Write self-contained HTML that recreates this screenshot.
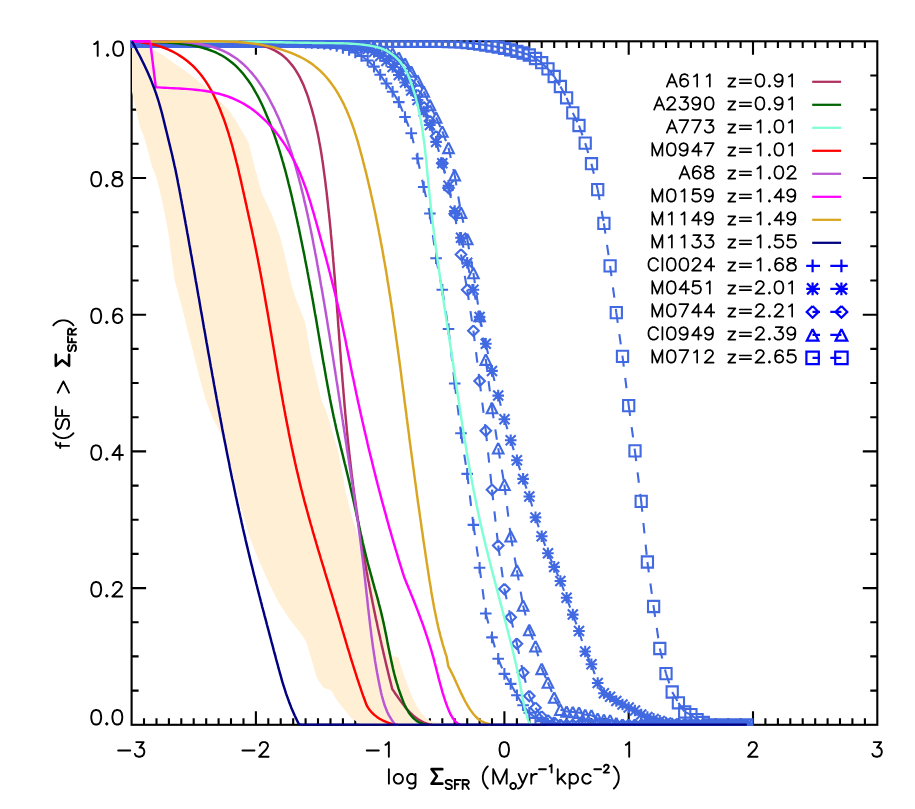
<!DOCTYPE html>
<html><head><meta charset="utf-8"><title>plot</title><style>html,body{margin:0;padding:0;background:#fff;font-family:"Liberation Sans",sans-serif}svg{display:block}</style></head><body>
<svg width="915" height="809" viewBox="0 0 915 809" role="img" aria-label="f(SF &gt; Sigma_SFR) versus log Sigma_SFR (Mo yr-1 kpc-2)">
<desc>Cumulative fraction of star formation above a given star formation rate surface density for lensed galaxies: A611 z=0.91, A2390 z=0.91, A773 z=1.01, M0947 z=1.01, A68 z=1.02, M0159 z=1.49, M1149 z=1.49, M1133 z=1.55, Cl0024 z=1.68, M0451 z=2.01, M0744 z=2.21, Cl0949 z=2.39, M0712 z=2.65</desc>
<defs><clipPath id="cp"><rect x="130.6" y="40.1" width="747.7" height="685.7"/></clipPath></defs>
<rect width="915" height="809" fill="#fff"/>
<g stroke="#000" stroke-width="2.1" fill="none" stroke-linecap="butt">
<rect x="131.6" y="41.3" width="745.7" height="683.5"/>
<path d="M144 724.8v-6.6M144 41.3v6.6M156.5 724.8v-6.6M156.5 41.3v6.6M168.9 724.8v-6.6M168.9 41.3v6.6M181.3 724.8v-6.6M181.3 41.3v6.6M193.7 724.8v-6.6M193.7 41.3v6.6M206.2 724.8v-6.6M206.2 41.3v6.6M218.6 724.8v-6.6M218.6 41.3v6.6M231 724.8v-6.6M231 41.3v6.6M243.5 724.8v-6.6M243.5 41.3v6.6M255.9 724.8v-13.5M255.9 41.3v13.5M268.3 724.8v-6.6M268.3 41.3v6.6M280.7 724.8v-6.6M280.7 41.3v6.6M293.2 724.8v-6.6M293.2 41.3v6.6M305.6 724.8v-6.6M305.6 41.3v6.6M318 724.8v-6.6M318 41.3v6.6M330.5 724.8v-6.6M330.5 41.3v6.6M342.9 724.8v-6.6M342.9 41.3v6.6M355.3 724.8v-6.6M355.3 41.3v6.6M367.7 724.8v-6.6M367.7 41.3v6.6M380.2 724.8v-13.5M380.2 41.3v13.5M392.6 724.8v-6.6M392.6 41.3v6.6M405 724.8v-6.6M405 41.3v6.6M417.5 724.8v-6.6M417.5 41.3v6.6M429.9 724.8v-6.6M429.9 41.3v6.6M442.3 724.8v-6.6M442.3 41.3v6.6M454.7 724.8v-6.6M454.7 41.3v6.6M467.2 724.8v-6.6M467.2 41.3v6.6M479.6 724.8v-6.6M479.6 41.3v6.6M492 724.8v-6.6M492 41.3v6.6M504.4 724.8v-13.5M504.4 41.3v13.5M516.9 724.8v-6.6M516.9 41.3v6.6M529.3 724.8v-6.6M529.3 41.3v6.6M541.7 724.8v-6.6M541.7 41.3v6.6M554.2 724.8v-6.6M554.2 41.3v6.6M566.6 724.8v-6.6M566.6 41.3v6.6M579 724.8v-6.6M579 41.3v6.6M591.4 724.8v-6.6M591.4 41.3v6.6M603.9 724.8v-6.6M603.9 41.3v6.6M616.3 724.8v-6.6M616.3 41.3v6.6M628.7 724.8v-13.5M628.7 41.3v13.5M641.2 724.8v-6.6M641.2 41.3v6.6M653.6 724.8v-6.6M653.6 41.3v6.6M666 724.8v-6.6M666 41.3v6.6M678.4 724.8v-6.6M678.4 41.3v6.6M690.9 724.8v-6.6M690.9 41.3v6.6M703.3 724.8v-6.6M703.3 41.3v6.6M715.7 724.8v-6.6M715.7 41.3v6.6M728.2 724.8v-6.6M728.2 41.3v6.6M740.6 724.8v-6.6M740.6 41.3v6.6M753 724.8v-13.5M753 41.3v13.5M765.4 724.8v-6.6M765.4 41.3v6.6M777.9 724.8v-6.6M777.9 41.3v6.6M790.3 724.8v-6.6M790.3 41.3v6.6M802.7 724.8v-6.6M802.7 41.3v6.6M815.2 724.8v-6.6M815.2 41.3v6.6M827.6 724.8v-6.6M827.6 41.3v6.6M840 724.8v-6.6M840 41.3v6.6M852.4 724.8v-6.6M852.4 41.3v6.6M864.9 724.8v-6.6M864.9 41.3v6.6M131.6 690.6h7M877.3 690.6h-7M131.6 656.4h7M877.3 656.4h-7M131.6 622.3h7M877.3 622.3h-7M131.6 588.1h14.5M877.3 588.1h-14.5M131.6 553.9h7M877.3 553.9h-7M131.6 519.8h7M877.3 519.8h-7M131.6 485.6h7M877.3 485.6h-7M131.6 451.4h14.5M877.3 451.4h-14.5M131.6 417.2h7M877.3 417.2h-7M131.6 383h7M877.3 383h-7M131.6 348.9h7M877.3 348.9h-7M131.6 314.7h14.5M877.3 314.7h-14.5M131.6 280.5h7M877.3 280.5h-7M131.6 246.3h7M877.3 246.3h-7M131.6 212.2h7M877.3 212.2h-7M131.6 178h14.5M877.3 178h-14.5M131.6 143.8h7M877.3 143.8h-7M131.6 109.6h7M877.3 109.6h-7M131.6 75.5h7M877.3 75.5h-7"/>
</g>
<path d="M132 41.3 L148 41.3 L151.4 48.8 L162.7 55.1 L175.3 63.9 L187.8 72.7 L200.4 82.8 L206.7 87.8 L219.3 100.4 L229.3 110.4 L235.6 120.5 L240 128 L245 136 L248.8 143.5 L251.9 156.1 L255.1 168.7 L258.9 182.5 L262 193.8 L267 203.9 L272 215.2 L276.4 226.5 L280.2 237 L284 252.1 L287.8 268.4 L291.5 284.8 L295.3 297.3 L300.3 309.9 L304.7 321.2 L306.6 330 L307.9 338 L311 356.1 L316 376.3 L321.1 398.9 L326.5 412 L330.4 425.1 L337.9 450.3 L342.9 475.4 L345.2 490 L351.4 515.1 L356.5 531.5 L361 547 L369.5 566.2 L375.8 591.4 L382.1 616.5 L386.6 636.1 L388.4 643.1 L391.5 655 L392.8 656.3 L398.5 657.2 L400.4 664.4 L404.1 675.8 L407.9 685.8 L411.7 695.9 L416.7 705.9 L421.7 713.5 L428 719.7 L434.3 722 L440.6 722.9 L446 724.8 L362 724.8 L358.9 723.5 L355 720.4 L351.2 717.9 L343.7 709.1 L336.1 699 L331.1 690.2 L323.6 687.7 L317.3 678.9 L313.5 666.3 L309.8 653.8 L306 641.2 L301 633.7 L290.9 621.1 L278.3 601.9 L268.3 581.8 L258.2 559.1 L249.4 536.5 L240.6 506.4 L233.1 473.7 L226.5 447 L223.7 441.2 L219.7 430.7 L213 419 L205.4 398.9 L199.2 376.3 L194.1 356.1 L187.8 331 L181.6 305.9 L174.8 280.7 L171.5 258.1 L169 237 L166.5 222.7 L163.3 206.4 L160.2 192.6 L156.4 177.5 L152 166.2 L148.3 152.3 L143.9 136 L140.7 129.3 L137.6 116.7 L135.1 105.4 L132 91.6 L132 88Z" fill="#FFEFD5"/>
<g clip-path="url(#cp)" stroke="#4169E1" stroke-width="2.1" fill="none" stroke-miterlimit="10">
<path d="M131.6 41.3L137.8 41.3M137.8 41.3L144 41.3M144 41.3L150.2 41.3M150.2 41.3L156.5 41.3M156.5 41.3L162.7 41.3M162.7 41.3L168.9 41.3M168.9 41.3L175.1 41.3M175.1 41.3L181.3 41.3M181.3 41.3L187.5 41.3M187.5 41.3L193.7 41.3M193.7 41.3L200 41.3M200 41.3L206.2 41.3M206.2 41.3L212.4 41.3M212.4 41.3L218.6 41.3M218.6 41.3L224.8 41.3M224.8 41.3L231 41.3M231 41.3L237.2 41.3M237.2 41.3L243.5 41.3M243.5 41.3L249.7 41.3M249.7 41.3L255.9 41.3M255.9 41.3L262.1 41.3M262.1 41.3L268.3 41.3M268.3 41.3L274.5 41.3M274.5 41.3L280.7 41.3M280.7 41.3L287 41.3M287 41.3L293.2 41.3M293.2 41.3L299.4 41.3M299.4 41.3L305.6 41.3M305.6 41.3L311.8 41.3M311.8 41.3L318 41.3M318 41.3L324.2 41.3M324.2 41.3L330.5 41.3M330.5 41.3L336.7 41.3M336.7 41.3L342.9 41.3M342.9 41.3L349.1 41.3M349.1 41.3L355.3 41.3M355.3 41.3L361.5 41.3M361.5 41.3L367.7 41.3M367.7 41.3L374 41.3M374 41.3L380.2 41.3M380.2 41.3L386.4 41.3M386.4 41.3L392.6 41.3M392.6 41.3L398.8 41.3M398.8 41.3L405 41.3M405 41.3L411.2 41.3M411.2 41.3L417.5 41.3M417.5 41.3L423.7 41.3M423.7 41.3L429.9 41.3M429.9 41.3L436.1 41.3M436.1 41.3L442.3 41.4M442.3 41.4L448.5 41.6M448.5 41.6L454.7 41.8M454.7 41.8L461 42.2M461 42.2L467.2 42.7M467.2 42.7L473.4 43.4M473.4 43.4L479.6 44.2M479.6 44.2L485.8 45.1M485.8 45.1L492 46M492 46L498.2 47.1M498.2 47.1L504.4 48.3M504.4 48.3L510.7 49.8M510.7 49.8L516.9 51.3M516.9 51.3L523.1 53M523.1 53L529.3 55M529.3 55L535.5 58.5M535.5 58.5L541.7 62.7M541.7 62.7L547.9 68.9M547.9 68.9L554.2 76.5M554.2 76.5L560.4 86.5M560.4 86.5L566.6 97.8M566.6 97.8L572.8 112.9M572.8 112.9L579 125.5M579 125.5L585.2 143.1M585.2 143.1L591.4 163.7M591.4 163.7L597.7 189.6M597.7 189.6L603.9 223.4M603.9 223.4L610.1 265.9M610.1 265.9L616.3 312.6M616.3 312.6L622.5 356.4M622.5 356.4L628.7 405.6M628.7 405.6L634.9 450.9M634.9 450.9L641.2 501.4M641.2 501.4L647.4 562M647.4 562L653.6 606.5M653.6 606.5L659.8 648.5M659.8 648.5L666 673.6M666 673.6L672.2 692M672.2 692L678.4 702.8M678.4 702.8L684.7 712M684.7 712L690.9 714.6M690.9 714.6L697.1 719.6M697.1 719.6L703.3 722.5M703.3 722.5L709.5 724.8M709.5 724.8L715.7 724.8M715.7 724.8L721.9 724.8M721.9 724.8L728.2 724.8M728.2 724.8L734.4 724.8M734.4 724.8L740.6 724.8M740.6 724.8L746.8 724.8" stroke-dasharray="10.4 11.3"/>
<path d="M126 35.7h11.2v11.2h-11.2ZM132.2 35.7h11.2v11.2h-11.2ZM138.4 35.7h11.2v11.2h-11.2ZM144.6 35.7h11.2v11.2h-11.2ZM150.9 35.7h11.2v11.2h-11.2ZM157.1 35.7h11.2v11.2h-11.2ZM163.3 35.7h11.2v11.2h-11.2ZM169.5 35.7h11.2v11.2h-11.2ZM175.7 35.7h11.2v11.2h-11.2ZM181.9 35.7h11.2v11.2h-11.2ZM188.1 35.7h11.2v11.2h-11.2ZM194.4 35.7h11.2v11.2h-11.2ZM200.6 35.7h11.2v11.2h-11.2ZM206.8 35.7h11.2v11.2h-11.2ZM213 35.7h11.2v11.2h-11.2ZM219.2 35.7h11.2v11.2h-11.2ZM225.4 35.7h11.2v11.2h-11.2ZM231.6 35.7h11.2v11.2h-11.2ZM237.9 35.7h11.2v11.2h-11.2ZM244.1 35.7h11.2v11.2h-11.2ZM250.3 35.7h11.2v11.2h-11.2ZM256.5 35.7h11.2v11.2h-11.2ZM262.7 35.7h11.2v11.2h-11.2ZM268.9 35.7h11.2v11.2h-11.2ZM275.1 35.7h11.2v11.2h-11.2ZM281.4 35.7h11.2v11.2h-11.2ZM287.6 35.7h11.2v11.2h-11.2ZM293.8 35.7h11.2v11.2h-11.2ZM300 35.7h11.2v11.2h-11.2ZM306.2 35.7h11.2v11.2h-11.2ZM312.4 35.7h11.2v11.2h-11.2ZM318.6 35.7h11.2v11.2h-11.2ZM324.9 35.7h11.2v11.2h-11.2ZM331.1 35.7h11.2v11.2h-11.2ZM337.3 35.7h11.2v11.2h-11.2ZM343.5 35.7h11.2v11.2h-11.2ZM349.7 35.7h11.2v11.2h-11.2ZM355.9 35.7h11.2v11.2h-11.2ZM362.1 35.7h11.2v11.2h-11.2ZM368.4 35.7h11.2v11.2h-11.2ZM374.6 35.7h11.2v11.2h-11.2ZM380.8 35.7h11.2v11.2h-11.2ZM387 35.7h11.2v11.2h-11.2ZM393.2 35.7h11.2v11.2h-11.2ZM399.4 35.7h11.2v11.2h-11.2ZM405.6 35.7h11.2v11.2h-11.2ZM411.9 35.7h11.2v11.2h-11.2ZM418.1 35.7h11.2v11.2h-11.2ZM424.3 35.7h11.2v11.2h-11.2ZM430.5 35.7h11.2v11.2h-11.2ZM436.7 35.8h11.2v11.2h-11.2ZM442.9 36h11.2v11.2h-11.2ZM449.1 36.2h11.2v11.2h-11.2ZM455.4 36.6h11.2v11.2h-11.2ZM461.6 37.1h11.2v11.2h-11.2ZM467.8 37.8h11.2v11.2h-11.2ZM474 38.6h11.2v11.2h-11.2ZM480.2 39.5h11.2v11.2h-11.2ZM486.4 40.4h11.2v11.2h-11.2ZM492.6 41.5h11.2v11.2h-11.2ZM498.9 42.7h11.2v11.2h-11.2ZM505.1 44.2h11.2v11.2h-11.2ZM511.3 45.7h11.2v11.2h-11.2ZM517.5 47.4h11.2v11.2h-11.2ZM523.7 49.4h11.2v11.2h-11.2ZM529.9 52.9h11.2v11.2h-11.2ZM536.1 57.1h11.2v11.2h-11.2ZM542.4 63.3h11.2v11.2h-11.2ZM548.6 70.9h11.2v11.2h-11.2ZM554.8 80.9h11.2v11.2h-11.2ZM561 92.2h11.2v11.2h-11.2ZM567.2 107.3h11.2v11.2h-11.2ZM573.4 119.9h11.2v11.2h-11.2ZM579.6 137.5h11.2v11.2h-11.2ZM585.9 158.1h11.2v11.2h-11.2ZM592.1 184h11.2v11.2h-11.2ZM598.3 217.8h11.2v11.2h-11.2ZM604.5 260.3h11.2v11.2h-11.2ZM610.7 307h11.2v11.2h-11.2ZM616.9 350.8h11.2v11.2h-11.2ZM623.1 400h11.2v11.2h-11.2ZM629.4 445.3h11.2v11.2h-11.2ZM635.6 495.8h11.2v11.2h-11.2ZM641.8 556.4h11.2v11.2h-11.2ZM648 600.9h11.2v11.2h-11.2ZM654.2 642.9h11.2v11.2h-11.2ZM660.4 668h11.2v11.2h-11.2ZM666.6 686.4h11.2v11.2h-11.2ZM672.8 697.2h11.2v11.2h-11.2ZM679.1 706.4h11.2v11.2h-11.2ZM685.3 709h11.2v11.2h-11.2ZM691.5 714h11.2v11.2h-11.2ZM697.7 716.9h11.2v11.2h-11.2ZM703.9 719.2h11.2v11.2h-11.2ZM710.1 719.2h11.2v11.2h-11.2ZM716.3 719.2h11.2v11.2h-11.2ZM722.6 719.2h11.2v11.2h-11.2ZM728.8 719.2h11.2v11.2h-11.2ZM735 719.2h11.2v11.2h-11.2ZM741.2 719.2h11.2v11.2h-11.2Z"/>
<path d="M131.6 41.3L137.8 41.3M137.8 41.3L144 41.3M144 41.3L150.2 41.3M150.2 41.3L156.5 41.3M156.5 41.3L162.7 41.3M162.7 41.3L168.9 41.3M168.9 41.3L175.1 41.3M175.1 41.3L181.3 41.3M181.3 41.3L187.5 41.3M187.5 41.3L193.7 41.3M193.7 41.3L200 41.3M200 41.3L206.2 41.3M206.2 41.3L212.4 41.3M212.4 41.3L218.6 41.3M218.6 41.3L224.8 41.3M224.8 41.3L231 41.3M231 41.3L237.2 41.3M237.2 41.3L243.5 41.3M243.5 41.3L249.7 41.3M249.7 41.3L255.9 41.3M255.9 41.3L262.1 41.3M262.1 41.3L268.3 41.3M268.3 41.3L274.5 41.3M274.5 41.3L280.7 41.3M280.7 41.3L287 41.3M287 41.3L293.2 41.4M293.2 41.4L299.4 41.5M299.4 41.5L305.6 41.7M305.6 41.7L311.8 41.8M311.8 41.8L318 42M318 42L324.2 42.2M324.2 42.2L330.5 42.4M330.5 42.4L336.7 42.7M336.7 42.7L342.9 43M342.9 43L349.1 43.4M349.1 43.4L355.3 44M355.3 44L361.5 44.6M361.5 44.6L367.7 45.5M367.7 45.5L374 47M374 47L380.2 48.5M380.2 48.5L386.4 51M386.4 51L392.6 53.5M392.6 53.5L398.8 57.5M398.8 57.5L405 63.5M405 63.5L411.2 71.5M411.2 71.5L417.5 80.5M417.5 80.5L423.7 91.5M423.7 91.5L429.9 105M429.9 105L436.1 117.5M436.1 117.5L442.3 131.4M442.3 131.4L448.5 147.8M448.5 147.8L454.7 175.1M454.7 175.1L461 212.6M461 212.6L467.2 239M467.2 239L473.4 272.9M473.4 272.9L479.6 316M479.6 316L485.8 359.6M485.8 359.6L492 408M492 408L498.2 448.2M498.2 448.2L504.4 484.7M504.4 484.7L510.7 536.2M510.7 536.2L516.9 570.2M516.9 570.2L523.1 605.5M523.1 605.5L529.3 629.9M529.3 629.9L535.5 646.2M535.5 646.2L541.7 668.8M541.7 668.8L547.9 682.4M547.9 682.4L554.2 697.5M554.2 697.5L560.4 709.7M560.4 709.7L566.6 711.5M566.6 711.5L572.8 712M572.8 712L579 712.6M579 712.6L585.2 714.8M585.2 714.8L591.4 715.3M591.4 715.3L597.7 718.6M597.7 718.6L603.9 719.7M603.9 719.7L610.1 720.2M610.1 720.2L616.3 723M616.3 723L622.5 724.8M622.5 724.8L628.7 724.8M628.7 724.8L634.9 724.8M634.9 724.8L641.2 724.8M641.2 724.8L647.4 724.8M647.4 724.8L653.6 724.8M653.6 724.8L659.8 724.8M659.8 724.8L666 724.8M666 724.8L672.2 724.8M672.2 724.8L678.4 724.8M678.4 724.8L684.7 724.8M684.7 724.8L690.9 724.8M690.9 724.8L697.1 724.8M697.1 724.8L703.3 724.8M703.3 724.8L709.5 724.8M709.5 724.8L715.7 724.8M715.7 724.8L721.9 724.8M721.9 724.8L728.2 724.8M728.2 724.8L734.4 724.8M734.4 724.8L740.6 724.8M740.6 724.8L746.8 724.8" stroke-dasharray="10.4 11.3"/>
<path d="M131.6 36l5.3 10.6h-10.6l5.3 -10.6M137.8 36l5.3 10.6h-10.6l5.3 -10.6M144 36l5.3 10.6h-10.6l5.3 -10.6M150.2 36l5.3 10.6h-10.6l5.3 -10.6M156.5 36l5.3 10.6h-10.6l5.3 -10.6M162.7 36l5.3 10.6h-10.6l5.3 -10.6M168.9 36l5.3 10.6h-10.6l5.3 -10.6M175.1 36l5.3 10.6h-10.6l5.3 -10.6M181.3 36l5.3 10.6h-10.6l5.3 -10.6M187.5 36l5.3 10.6h-10.6l5.3 -10.6M193.7 36l5.3 10.6h-10.6l5.3 -10.6M200 36l5.3 10.6h-10.6l5.3 -10.6M206.2 36l5.3 10.6h-10.6l5.3 -10.6M212.4 36l5.3 10.6h-10.6l5.3 -10.6M218.6 36l5.3 10.6h-10.6l5.3 -10.6M224.8 36l5.3 10.6h-10.6l5.3 -10.6M231 36l5.3 10.6h-10.6l5.3 -10.6M237.2 36l5.3 10.6h-10.6l5.3 -10.6M243.5 36l5.3 10.6h-10.6l5.3 -10.6M249.7 36l5.3 10.6h-10.6l5.3 -10.6M255.9 36l5.3 10.6h-10.6l5.3 -10.6M262.1 36l5.3 10.6h-10.6l5.3 -10.6M268.3 36l5.3 10.6h-10.6l5.3 -10.6M274.5 36l5.3 10.6h-10.6l5.3 -10.6M280.7 36l5.3 10.6h-10.6l5.3 -10.6M287 36l5.3 10.6h-10.6l5.3 -10.6M293.2 36.1l5.3 10.6h-10.6l5.3 -10.6M299.4 36.2l5.3 10.6h-10.6l5.3 -10.6M305.6 36.4l5.3 10.6h-10.6l5.3 -10.6M311.8 36.5l5.3 10.6h-10.6l5.3 -10.6M318 36.7l5.3 10.6h-10.6l5.3 -10.6M324.2 36.9l5.3 10.6h-10.6l5.3 -10.6M330.5 37.1l5.3 10.6h-10.6l5.3 -10.6M336.7 37.4l5.3 10.6h-10.6l5.3 -10.6M342.9 37.7l5.3 10.6h-10.6l5.3 -10.6M349.1 38.1l5.3 10.6h-10.6l5.3 -10.6M355.3 38.7l5.3 10.6h-10.6l5.3 -10.6M361.5 39.3l5.3 10.6h-10.6l5.3 -10.6M367.7 40.2l5.3 10.6h-10.6l5.3 -10.6M374 41.7l5.3 10.6h-10.6l5.3 -10.6M380.2 43.2l5.3 10.6h-10.6l5.3 -10.6M386.4 45.7l5.3 10.6h-10.6l5.3 -10.6M392.6 48.2l5.3 10.6h-10.6l5.3 -10.6M398.8 52.2l5.3 10.6h-10.6l5.3 -10.6M405 58.2l5.3 10.6h-10.6l5.3 -10.6M411.2 66.2l5.3 10.6h-10.6l5.3 -10.6M417.5 75.2l5.3 10.6h-10.6l5.3 -10.6M423.7 86.2l5.3 10.6h-10.6l5.3 -10.6M429.9 99.7l5.3 10.6h-10.6l5.3 -10.6M436.1 112.2l5.3 10.6h-10.6l5.3 -10.6M442.3 126.1l5.3 10.6h-10.6l5.3 -10.6M448.5 142.5l5.3 10.6h-10.6l5.3 -10.6M454.7 169.8l5.3 10.6h-10.6l5.3 -10.6M461 207.3l5.3 10.6h-10.6l5.3 -10.6M467.2 233.7l5.3 10.6h-10.6l5.3 -10.6M473.4 267.6l5.3 10.6h-10.6l5.3 -10.6M479.6 310.7l5.3 10.6h-10.6l5.3 -10.6M485.8 354.3l5.3 10.6h-10.6l5.3 -10.6M492 402.7l5.3 10.6h-10.6l5.3 -10.6M498.2 442.9l5.3 10.6h-10.6l5.3 -10.6M504.4 479.4l5.3 10.6h-10.6l5.3 -10.6M510.7 530.9l5.3 10.6h-10.6l5.3 -10.6M516.9 564.9l5.3 10.6h-10.6l5.3 -10.6M523.1 600.2l5.3 10.6h-10.6l5.3 -10.6M529.3 624.6l5.3 10.6h-10.6l5.3 -10.6M535.5 640.9l5.3 10.6h-10.6l5.3 -10.6M541.7 663.5l5.3 10.6h-10.6l5.3 -10.6M547.9 677.1l5.3 10.6h-10.6l5.3 -10.6M554.2 692.2l5.3 10.6h-10.6l5.3 -10.6M560.4 704.4l5.3 10.6h-10.6l5.3 -10.6M566.6 706.2l5.3 10.6h-10.6l5.3 -10.6M572.8 706.7l5.3 10.6h-10.6l5.3 -10.6M579 707.3l5.3 10.6h-10.6l5.3 -10.6M585.2 709.5l5.3 10.6h-10.6l5.3 -10.6M591.4 710l5.3 10.6h-10.6l5.3 -10.6M597.7 713.3l5.3 10.6h-10.6l5.3 -10.6M603.9 714.4l5.3 10.6h-10.6l5.3 -10.6M610.1 714.9l5.3 10.6h-10.6l5.3 -10.6M616.3 717.7l5.3 10.6h-10.6l5.3 -10.6M622.5 719.5l5.3 10.6h-10.6l5.3 -10.6M628.7 719.5l5.3 10.6h-10.6l5.3 -10.6M634.9 719.5l5.3 10.6h-10.6l5.3 -10.6M641.2 719.5l5.3 10.6h-10.6l5.3 -10.6M647.4 719.5l5.3 10.6h-10.6l5.3 -10.6M653.6 719.5l5.3 10.6h-10.6l5.3 -10.6M659.8 719.5l5.3 10.6h-10.6l5.3 -10.6M666 719.5l5.3 10.6h-10.6l5.3 -10.6M672.2 719.5l5.3 10.6h-10.6l5.3 -10.6M678.4 719.5l5.3 10.6h-10.6l5.3 -10.6M684.7 719.5l5.3 10.6h-10.6l5.3 -10.6M690.9 719.5l5.3 10.6h-10.6l5.3 -10.6M697.1 719.5l5.3 10.6h-10.6l5.3 -10.6M703.3 719.5l5.3 10.6h-10.6l5.3 -10.6M709.5 719.5l5.3 10.6h-10.6l5.3 -10.6M715.7 719.5l5.3 10.6h-10.6l5.3 -10.6M721.9 719.5l5.3 10.6h-10.6l5.3 -10.6M728.2 719.5l5.3 10.6h-10.6l5.3 -10.6M734.4 719.5l5.3 10.6h-10.6l5.3 -10.6M740.6 719.5l5.3 10.6h-10.6l5.3 -10.6M746.8 719.5l5.3 10.6h-10.6l5.3 -10.6"/>
<path d="M131.6 41.3L137.8 41.3M137.8 41.3L144 41.3M144 41.3L150.2 41.3M150.2 41.3L156.5 41.3M156.5 41.3L162.7 41.3M162.7 41.3L168.9 41.3M168.9 41.3L175.1 41.3M175.1 41.3L181.3 41.3M181.3 41.3L187.5 41.3M187.5 41.3L193.7 41.3M193.7 41.3L200 41.3M200 41.3L206.2 41.3M206.2 41.3L212.4 41.3M212.4 41.3L218.6 41.3M218.6 41.3L224.8 41.3M224.8 41.3L231 41.3M231 41.3L237.2 41.3M237.2 41.3L243.5 41.3M243.5 41.3L249.7 41.3M249.7 41.3L255.9 41.3M255.9 41.3L262.1 41.3M262.1 41.3L268.3 41.3M268.3 41.3L274.5 41.3M274.5 41.3L280.7 41.3M280.7 41.3L287 41.3M287 41.3L293.2 41.5M293.2 41.5L299.4 41.7M299.4 41.7L305.6 41.9M305.6 41.9L311.8 42.2M311.8 42.2L318 42.5M318 42.5L324.2 42.8M324.2 42.8L330.5 43.1M330.5 43.1L336.7 43.5M336.7 43.5L342.9 44M342.9 44L349.1 44.7M349.1 44.7L355.3 45.5M355.3 45.5L361.5 46.4M361.5 46.4L367.7 47.5M367.7 47.5L374 49.5M374 49.5L380.2 52.5M380.2 52.5L386.4 56.5M386.4 56.5L392.6 61.5M392.6 61.5L398.8 68M398.8 68L405 75.5M405 75.5L411.2 84.5M411.2 84.5L417.5 95M417.5 95L423.7 107M423.7 107L429.9 121M429.9 121L436.1 136.2M436.1 136.2L442.3 163.3M442.3 163.3L448.5 188M448.5 188L454.7 213.8M454.7 213.8L461 254.5M461 254.5L467.2 289.7M467.2 289.7L473.4 330.7M473.4 330.7L479.6 381M479.6 381L485.8 430.7M485.8 430.7L492 489.7M492 489.7L498.2 545.5M498.2 545.5L504.4 589M504.4 589L510.7 617.3M510.7 617.3L516.9 643.7M516.9 643.7L523.1 672.6M523.1 672.6L529.3 696M529.3 696L535.5 707.8M535.5 707.8L541.7 716.6M541.7 716.6L547.9 720.4M547.9 720.4L554.2 722.5M554.2 722.5L560.4 724.8M560.4 724.8L566.6 724.8M566.6 724.8L572.8 724.8M572.8 724.8L579 724.8M579 724.8L585.2 724.8M585.2 724.8L591.4 724.8M591.4 724.8L597.7 724.8M597.7 724.8L603.9 724.8M603.9 724.8L610.1 724.8M610.1 724.8L616.3 724.8M616.3 724.8L622.5 724.8M622.5 724.8L628.7 724.8M628.7 724.8L634.9 724.8M634.9 724.8L641.2 724.8M641.2 724.8L647.4 724.8M647.4 724.8L653.6 724.8M653.6 724.8L659.8 724.8M659.8 724.8L666 724.8M666 724.8L672.2 724.8M672.2 724.8L678.4 724.8M678.4 724.8L684.7 724.8M684.7 724.8L690.9 724.8M690.9 724.8L697.1 724.8M697.1 724.8L703.3 724.8M703.3 724.8L709.5 724.8M709.5 724.8L715.7 724.8M715.7 724.8L721.9 724.8M721.9 724.8L728.2 724.8M728.2 724.8L734.4 724.8M734.4 724.8L740.6 724.8M740.6 724.8L746.8 724.8" stroke-dasharray="10.4 11.3"/>
<path d="M131.6 36l5.3 5.3l-5.3 5.3l-5.3 -5.3l5.3 -5.3M137.8 36l5.3 5.3l-5.3 5.3l-5.3 -5.3l5.3 -5.3M144 36l5.3 5.3l-5.3 5.3l-5.3 -5.3l5.3 -5.3M150.2 36l5.3 5.3l-5.3 5.3l-5.3 -5.3l5.3 -5.3M156.5 36l5.3 5.3l-5.3 5.3l-5.3 -5.3l5.3 -5.3M162.7 36l5.3 5.3l-5.3 5.3l-5.3 -5.3l5.3 -5.3M168.9 36l5.3 5.3l-5.3 5.3l-5.3 -5.3l5.3 -5.3M175.1 36l5.3 5.3l-5.3 5.3l-5.3 -5.3l5.3 -5.3M181.3 36l5.3 5.3l-5.3 5.3l-5.3 -5.3l5.3 -5.3M187.5 36l5.3 5.3l-5.3 5.3l-5.3 -5.3l5.3 -5.3M193.7 36l5.3 5.3l-5.3 5.3l-5.3 -5.3l5.3 -5.3M200 36l5.3 5.3l-5.3 5.3l-5.3 -5.3l5.3 -5.3M206.2 36l5.3 5.3l-5.3 5.3l-5.3 -5.3l5.3 -5.3M212.4 36l5.3 5.3l-5.3 5.3l-5.3 -5.3l5.3 -5.3M218.6 36l5.3 5.3l-5.3 5.3l-5.3 -5.3l5.3 -5.3M224.8 36l5.3 5.3l-5.3 5.3l-5.3 -5.3l5.3 -5.3M231 36l5.3 5.3l-5.3 5.3l-5.3 -5.3l5.3 -5.3M237.2 36l5.3 5.3l-5.3 5.3l-5.3 -5.3l5.3 -5.3M243.5 36l5.3 5.3l-5.3 5.3l-5.3 -5.3l5.3 -5.3M249.7 36l5.3 5.3l-5.3 5.3l-5.3 -5.3l5.3 -5.3M255.9 36l5.3 5.3l-5.3 5.3l-5.3 -5.3l5.3 -5.3M262.1 36l5.3 5.3l-5.3 5.3l-5.3 -5.3l5.3 -5.3M268.3 36l5.3 5.3l-5.3 5.3l-5.3 -5.3l5.3 -5.3M274.5 36l5.3 5.3l-5.3 5.3l-5.3 -5.3l5.3 -5.3M280.7 36l5.3 5.3l-5.3 5.3l-5.3 -5.3l5.3 -5.3M287 36l5.3 5.3l-5.3 5.3l-5.3 -5.3l5.3 -5.3M293.2 36.2l5.3 5.3l-5.3 5.3l-5.3 -5.3l5.3 -5.3M299.4 36.4l5.3 5.3l-5.3 5.3l-5.3 -5.3l5.3 -5.3M305.6 36.6l5.3 5.3l-5.3 5.3l-5.3 -5.3l5.3 -5.3M311.8 36.9l5.3 5.3l-5.3 5.3l-5.3 -5.3l5.3 -5.3M318 37.2l5.3 5.3l-5.3 5.3l-5.3 -5.3l5.3 -5.3M324.2 37.5l5.3 5.3l-5.3 5.3l-5.3 -5.3l5.3 -5.3M330.5 37.8l5.3 5.3l-5.3 5.3l-5.3 -5.3l5.3 -5.3M336.7 38.2l5.3 5.3l-5.3 5.3l-5.3 -5.3l5.3 -5.3M342.9 38.7l5.3 5.3l-5.3 5.3l-5.3 -5.3l5.3 -5.3M349.1 39.4l5.3 5.3l-5.3 5.3l-5.3 -5.3l5.3 -5.3M355.3 40.2l5.3 5.3l-5.3 5.3l-5.3 -5.3l5.3 -5.3M361.5 41.1l5.3 5.3l-5.3 5.3l-5.3 -5.3l5.3 -5.3M367.7 42.2l5.3 5.3l-5.3 5.3l-5.3 -5.3l5.3 -5.3M374 44.2l5.3 5.3l-5.3 5.3l-5.3 -5.3l5.3 -5.3M380.2 47.2l5.3 5.3l-5.3 5.3l-5.3 -5.3l5.3 -5.3M386.4 51.2l5.3 5.3l-5.3 5.3l-5.3 -5.3l5.3 -5.3M392.6 56.2l5.3 5.3l-5.3 5.3l-5.3 -5.3l5.3 -5.3M398.8 62.7l5.3 5.3l-5.3 5.3l-5.3 -5.3l5.3 -5.3M405 70.2l5.3 5.3l-5.3 5.3l-5.3 -5.3l5.3 -5.3M411.2 79.2l5.3 5.3l-5.3 5.3l-5.3 -5.3l5.3 -5.3M417.5 89.7l5.3 5.3l-5.3 5.3l-5.3 -5.3l5.3 -5.3M423.7 101.7l5.3 5.3l-5.3 5.3l-5.3 -5.3l5.3 -5.3M429.9 115.7l5.3 5.3l-5.3 5.3l-5.3 -5.3l5.3 -5.3M436.1 130.9l5.3 5.3l-5.3 5.3l-5.3 -5.3l5.3 -5.3M442.3 158l5.3 5.3l-5.3 5.3l-5.3 -5.3l5.3 -5.3M448.5 182.7l5.3 5.3l-5.3 5.3l-5.3 -5.3l5.3 -5.3M454.7 208.5l5.3 5.3l-5.3 5.3l-5.3 -5.3l5.3 -5.3M461 249.2l5.3 5.3l-5.3 5.3l-5.3 -5.3l5.3 -5.3M467.2 284.4l5.3 5.3l-5.3 5.3l-5.3 -5.3l5.3 -5.3M473.4 325.4l5.3 5.3l-5.3 5.3l-5.3 -5.3l5.3 -5.3M479.6 375.7l5.3 5.3l-5.3 5.3l-5.3 -5.3l5.3 -5.3M485.8 425.4l5.3 5.3l-5.3 5.3l-5.3 -5.3l5.3 -5.3M492 484.4l5.3 5.3l-5.3 5.3l-5.3 -5.3l5.3 -5.3M498.2 540.2l5.3 5.3l-5.3 5.3l-5.3 -5.3l5.3 -5.3M504.4 583.7l5.3 5.3l-5.3 5.3l-5.3 -5.3l5.3 -5.3M510.7 612l5.3 5.3l-5.3 5.3l-5.3 -5.3l5.3 -5.3M516.9 638.4l5.3 5.3l-5.3 5.3l-5.3 -5.3l5.3 -5.3M523.1 667.3l5.3 5.3l-5.3 5.3l-5.3 -5.3l5.3 -5.3M529.3 690.7l5.3 5.3l-5.3 5.3l-5.3 -5.3l5.3 -5.3M535.5 702.5l5.3 5.3l-5.3 5.3l-5.3 -5.3l5.3 -5.3M541.7 711.3l5.3 5.3l-5.3 5.3l-5.3 -5.3l5.3 -5.3M547.9 715.1l5.3 5.3l-5.3 5.3l-5.3 -5.3l5.3 -5.3M554.2 717.2l5.3 5.3l-5.3 5.3l-5.3 -5.3l5.3 -5.3M560.4 719.5l5.3 5.3l-5.3 5.3l-5.3 -5.3l5.3 -5.3M566.6 719.5l5.3 5.3l-5.3 5.3l-5.3 -5.3l5.3 -5.3M572.8 719.5l5.3 5.3l-5.3 5.3l-5.3 -5.3l5.3 -5.3M579 719.5l5.3 5.3l-5.3 5.3l-5.3 -5.3l5.3 -5.3M585.2 719.5l5.3 5.3l-5.3 5.3l-5.3 -5.3l5.3 -5.3M591.4 719.5l5.3 5.3l-5.3 5.3l-5.3 -5.3l5.3 -5.3M597.7 719.5l5.3 5.3l-5.3 5.3l-5.3 -5.3l5.3 -5.3M603.9 719.5l5.3 5.3l-5.3 5.3l-5.3 -5.3l5.3 -5.3M610.1 719.5l5.3 5.3l-5.3 5.3l-5.3 -5.3l5.3 -5.3M616.3 719.5l5.3 5.3l-5.3 5.3l-5.3 -5.3l5.3 -5.3M622.5 719.5l5.3 5.3l-5.3 5.3l-5.3 -5.3l5.3 -5.3M628.7 719.5l5.3 5.3l-5.3 5.3l-5.3 -5.3l5.3 -5.3M634.9 719.5l5.3 5.3l-5.3 5.3l-5.3 -5.3l5.3 -5.3M641.2 719.5l5.3 5.3l-5.3 5.3l-5.3 -5.3l5.3 -5.3M647.4 719.5l5.3 5.3l-5.3 5.3l-5.3 -5.3l5.3 -5.3M653.6 719.5l5.3 5.3l-5.3 5.3l-5.3 -5.3l5.3 -5.3M659.8 719.5l5.3 5.3l-5.3 5.3l-5.3 -5.3l5.3 -5.3M666 719.5l5.3 5.3l-5.3 5.3l-5.3 -5.3l5.3 -5.3M672.2 719.5l5.3 5.3l-5.3 5.3l-5.3 -5.3l5.3 -5.3M678.4 719.5l5.3 5.3l-5.3 5.3l-5.3 -5.3l5.3 -5.3M684.7 719.5l5.3 5.3l-5.3 5.3l-5.3 -5.3l5.3 -5.3M690.9 719.5l5.3 5.3l-5.3 5.3l-5.3 -5.3l5.3 -5.3M697.1 719.5l5.3 5.3l-5.3 5.3l-5.3 -5.3l5.3 -5.3M703.3 719.5l5.3 5.3l-5.3 5.3l-5.3 -5.3l5.3 -5.3M709.5 719.5l5.3 5.3l-5.3 5.3l-5.3 -5.3l5.3 -5.3M715.7 719.5l5.3 5.3l-5.3 5.3l-5.3 -5.3l5.3 -5.3M721.9 719.5l5.3 5.3l-5.3 5.3l-5.3 -5.3l5.3 -5.3M728.2 719.5l5.3 5.3l-5.3 5.3l-5.3 -5.3l5.3 -5.3M734.4 719.5l5.3 5.3l-5.3 5.3l-5.3 -5.3l5.3 -5.3M740.6 719.5l5.3 5.3l-5.3 5.3l-5.3 -5.3l5.3 -5.3M746.8 719.5l5.3 5.3l-5.3 5.3l-5.3 -5.3l5.3 -5.3"/>
<path d="M131.6 41.3L137.8 41.3M137.8 41.3L144 41.3M144 41.3L150.2 41.3M150.2 41.3L156.5 41.3M156.5 41.3L162.7 41.3M162.7 41.3L168.9 41.3M168.9 41.3L175.1 41.3M175.1 41.3L181.3 41.3M181.3 41.3L187.5 41.3M187.5 41.3L193.7 41.3M193.7 41.3L200 41.3M200 41.3L206.2 41.3M206.2 41.3L212.4 41.3M212.4 41.3L218.6 41.3M218.6 41.3L224.8 41.3M224.8 41.3L231 41.3M231 41.3L237.2 41.3M237.2 41.3L243.5 41.3M243.5 41.3L249.7 41.3M249.7 41.3L255.9 41.3M255.9 41.3L262.1 41.3M262.1 41.3L268.3 41.3M268.3 41.3L274.5 41.3M274.5 41.3L280.7 41.3M280.7 41.3L287 41.3M287 41.3L293.2 41.5M293.2 41.5L299.4 41.8M299.4 41.8L305.6 42M305.6 42L311.8 42.3M311.8 42.3L318 42.5M318 42.5L324.2 42.7M324.2 42.7L330.5 43M330.5 43L336.7 43.4M336.7 43.4L342.9 44M342.9 44L349.1 44.6M349.1 44.6L355.3 45.5M355.3 45.5L361.5 47M361.5 47L367.7 49M367.7 49L374 52M374 52L380.2 56M380.2 56L386.4 61M386.4 61L392.6 67M392.6 67L398.8 75M398.8 75L405 82.5M405 82.5L411.2 90.5M411.2 90.5L417.5 100M417.5 100L423.7 111.5M423.7 111.5L429.9 125M429.9 125L436.1 141.9M436.1 141.9L442.3 163.3M442.3 163.3L448.5 185.8M448.5 185.8L454.7 211M454.7 211L461 237.7M461 237.7L467.2 262.8M467.2 262.8L473.4 289.7M473.4 289.7L479.6 316.9M479.6 316.9L485.8 343.8M485.8 343.8L492 370.9M492 370.9L498.2 395.6M498.2 395.6L504.4 419.3M504.4 419.3L510.7 440.2M510.7 440.2L516.9 460.3M516.9 460.3L523.1 478.9M523.1 478.9L529.3 496.5M529.3 496.5L535.5 517.4M535.5 517.4L541.7 536.2M541.7 536.2L547.9 553.3M547.9 553.3L554.2 566.9M554.2 566.9L560.4 581M560.4 581L566.6 597.8M566.6 597.8L572.8 614.6M572.8 614.6L579 631M579 631L585.2 651.5M585.2 651.5L591.4 664.3M591.4 664.3L597.7 683M597.7 683L603.9 693.3M603.9 693.3L610.1 696.8M610.1 696.8L616.3 701M616.3 701L622.5 704.5M622.5 704.5L628.7 707.5M628.7 707.5L634.9 710.5M634.9 710.5L641.2 714.6M641.2 714.6L647.4 717.1M647.4 717.1L653.6 718.9M653.6 718.9L659.8 720.9M659.8 720.9L666 722.5M666 722.5L672.2 723.5M672.2 723.5L678.4 724.8M678.4 724.8L684.7 724.8M684.7 724.8L690.9 724.8M690.9 724.8L697.1 724.8M697.1 724.8L703.3 724.8M703.3 724.8L709.5 724.8M709.5 724.8L715.7 724.8M715.7 724.8L721.9 724.8M721.9 724.8L728.2 724.8M728.2 724.8L734.4 724.8M734.4 724.8L740.6 724.8M740.6 724.8L746.8 724.8" stroke-dasharray="10.4 11.3"/>
<path d="M125.8 41.3h11.6M131.6 35.5v11.6M126.6 36.3l10 10M126.6 46.3l10 -10M132 41.3h11.6M137.8 35.5v11.6M132.8 36.3l10 10M132.8 46.3l10 -10M138.2 41.3h11.6M144 35.5v11.6M139 36.3l10 10M139 46.3l10 -10M144.4 41.3h11.6M150.2 35.5v11.6M145.3 36.3l10 10M145.3 46.3l10 -10M150.7 41.3h11.6M156.5 35.5v11.6M151.5 36.3l10 10M151.5 46.3l10 -10M156.9 41.3h11.6M162.7 35.5v11.6M157.7 36.3l10 10M157.7 46.3l10 -10M163.1 41.3h11.6M168.9 35.5v11.6M163.9 36.3l10 10M163.9 46.3l10 -10M169.3 41.3h11.6M175.1 35.5v11.6M170.1 36.3l10 10M170.1 46.3l10 -10M175.5 41.3h11.6M181.3 35.5v11.6M176.3 36.3l10 10M176.3 46.3l10 -10M181.7 41.3h11.6M187.5 35.5v11.6M182.5 36.3l10 10M182.5 46.3l10 -10M187.9 41.3h11.6M193.7 35.5v11.6M188.8 36.3l10 10M188.8 46.3l10 -10M194.2 41.3h11.6M200 35.5v11.6M195 36.3l10 10M195 46.3l10 -10M200.4 41.3h11.6M206.2 35.5v11.6M201.2 36.3l10 10M201.2 46.3l10 -10M206.6 41.3h11.6M212.4 35.5v11.6M207.4 36.3l10 10M207.4 46.3l10 -10M212.8 41.3h11.6M218.6 35.5v11.6M213.6 36.3l10 10M213.6 46.3l10 -10M219 41.3h11.6M224.8 35.5v11.6M219.8 36.3l10 10M219.8 46.3l10 -10M225.2 41.3h11.6M231 35.5v11.6M226 36.3l10 10M226 46.3l10 -10M231.4 41.3h11.6M237.2 35.5v11.6M232.3 36.3l10 10M232.3 46.3l10 -10M237.7 41.3h11.6M243.5 35.5v11.6M238.5 36.3l10 10M238.5 46.3l10 -10M243.9 41.3h11.6M249.7 35.5v11.6M244.7 36.3l10 10M244.7 46.3l10 -10M250.1 41.3h11.6M255.9 35.5v11.6M250.9 36.3l10 10M250.9 46.3l10 -10M256.3 41.3h11.6M262.1 35.5v11.6M257.1 36.3l10 10M257.1 46.3l10 -10M262.5 41.3h11.6M268.3 35.5v11.6M263.3 36.3l10 10M263.3 46.3l10 -10M268.7 41.3h11.6M274.5 35.5v11.6M269.5 36.3l10 10M269.5 46.3l10 -10M274.9 41.3h11.6M280.7 35.5v11.6M275.8 36.3l10 10M275.8 46.3l10 -10M281.2 41.3h11.6M287 35.5v11.6M282 36.3l10 10M282 46.3l10 -10M287.4 41.5h11.6M293.2 35.7v11.6M288.2 36.5l10 10M288.2 46.5l10 -10M293.6 41.8h11.6M299.4 36v11.6M294.4 36.8l10 10M294.4 46.8l10 -10M299.8 42h11.6M305.6 36.2v11.6M300.6 37l10 10M300.6 47l10 -10M306 42.3h11.6M311.8 36.5v11.6M306.8 37.3l10 10M306.8 47.2l10 -10M312.2 42.5h11.6M318 36.7v11.6M313 37.5l10 10M313 47.5l10 -10M318.4 42.7h11.6M324.2 36.9v11.6M319.3 37.7l10 10M319.3 47.7l10 -10M324.7 43h11.6M330.5 37.2v11.6M325.5 38l10 10M325.5 48l10 -10M330.9 43.4h11.6M336.7 37.6v11.6M331.7 38.4l10 10M331.7 48.4l10 -10M337.1 44h11.6M342.9 38.2v11.6M337.9 39l10 10M337.9 49l10 -10M343.3 44.6h11.6M349.1 38.8v11.6M344.1 39.7l10 10M344.1 49.6l10 -10M349.5 45.5h11.6M355.3 39.7v11.6M350.3 40.5l10 10M350.3 50.5l10 -10M355.7 47h11.6M361.5 41.2v11.6M356.5 42l10 10M356.5 52l10 -10M361.9 49h11.6M367.7 43.2v11.6M362.8 44l10 10M362.8 54l10 -10M368.2 52h11.6M374 46.2v11.6M369 47l10 10M369 57l10 -10M374.4 56h11.6M380.2 50.2v11.6M375.2 51l10 10M375.2 61l10 -10M380.6 61h11.6M386.4 55.2v11.6M381.4 56l10 10M381.4 66l10 -10M386.8 67h11.6M392.6 61.2v11.6M387.6 62l10 10M387.6 72l10 -10M393 75h11.6M398.8 69.2v11.6M393.8 70l10 10M393.8 80l10 -10M399.2 82.5h11.6M405 76.7v11.6M400 77.5l10 10M400 87.5l10 -10M405.4 90.5h11.6M411.2 84.7v11.6M406.2 85.5l10 10M406.2 95.5l10 -10M411.7 100h11.6M417.5 94.2v11.6M412.5 95l10 10M412.5 105l10 -10M417.9 111.5h11.6M423.7 105.7v11.6M418.7 106.5l10 10M418.7 116.5l10 -10M424.1 125h11.6M429.9 119.2v11.6M424.9 120l10 10M424.9 130l10 -10M430.3 141.9h11.6M436.1 136.1v11.6M431.1 136.9l10 10M431.1 146.9l10 -10M436.5 163.3h11.6M442.3 157.5v11.6M437.3 158.3l10 10M437.3 168.3l10 -10M442.7 185.8h11.6M448.5 180v11.6M443.5 180.8l10 10M443.5 190.8l10 -10M448.9 211h11.6M454.7 205.2v11.6M449.7 206l10 10M449.7 216l10 -10M455.2 237.7h11.6M461 231.9v11.6M456 232.7l10 10M456 242.7l10 -10M461.4 262.8h11.6M467.2 257v11.6M462.2 257.8l10 10M462.2 267.8l10 -10M467.6 289.7h11.6M473.4 283.9v11.6M468.4 284.7l10 10M468.4 294.7l10 -10M473.8 316.9h11.6M479.6 311.1v11.6M474.6 311.9l10 10M474.6 321.9l10 -10M480 343.8h11.6M485.8 338v11.6M480.8 338.8l10 10M480.8 348.8l10 -10M486.2 370.9h11.6M492 365.1v11.6M487 365.9l10 10M487 375.9l10 -10M492.4 395.6h11.6M498.2 389.8v11.6M493.2 390.6l10 10M493.2 400.6l10 -10M498.6 419.3h11.6M504.4 413.5v11.6M499.5 414.3l10 10M499.5 424.3l10 -10M504.9 440.2h11.6M510.7 434.4v11.6M505.7 435.2l10 10M505.7 445.2l10 -10M511.1 460.3h11.6M516.9 454.5v11.6M511.9 455.3l10 10M511.9 465.3l10 -10M517.3 478.9h11.6M523.1 473.1v11.6M518.1 473.9l10 10M518.1 483.9l10 -10M523.5 496.5h11.6M529.3 490.7v11.6M524.3 491.5l10 10M524.3 501.5l10 -10M529.7 517.4h11.6M535.5 511.6v11.6M530.5 512.4l10 10M530.5 522.4l10 -10M535.9 536.2h11.6M541.7 530.4v11.6M536.7 531.2l10 10M536.7 541.2l10 -10M542.1 553.3h11.6M547.9 547.5v11.6M543 548.3l10 10M543 558.3l10 -10M548.4 566.9h11.6M554.2 561.1v11.6M549.2 561.9l10 10M549.2 571.9l10 -10M554.6 581h11.6M560.4 575.2v11.6M555.4 576l10 10M555.4 586l10 -10M560.8 597.8h11.6M566.6 592v11.6M561.6 592.8l10 10M561.6 602.8l10 -10M567 614.6h11.6M572.8 608.8v11.6M567.8 609.6l10 10M567.8 619.6l10 -10M573.2 631h11.6M579 625.2v11.6M574 626l10 10M574 636l10 -10M579.4 651.5h11.6M585.2 645.7v11.6M580.2 646.5l10 10M580.2 656.5l10 -10M585.6 664.3h11.6M591.4 658.5v11.6M586.5 659.3l10 10M586.5 669.3l10 -10M591.9 683h11.6M597.7 677.2v11.6M592.7 678l10 10M592.7 688l10 -10M598.1 693.3h11.6M603.9 687.5v11.6M598.9 688.3l10 10M598.9 698.3l10 -10M604.3 696.8h11.6M610.1 691v11.6M605.1 691.8l10 10M605.1 701.8l10 -10M610.5 701h11.6M616.3 695.2v11.6M611.3 696l10 10M611.3 706l10 -10M616.7 704.5h11.6M622.5 698.7v11.6M617.5 699.5l10 10M617.5 709.5l10 -10M622.9 707.5h11.6M628.7 701.7v11.6M623.7 702.5l10 10M623.7 712.5l10 -10M629.1 710.5h11.6M634.9 704.7v11.6M630 705.5l10 10M630 715.5l10 -10M635.4 714.6h11.6M641.2 708.8v11.6M636.2 709.6l10 10M636.2 719.6l10 -10M641.6 717.1h11.6M647.4 711.3v11.6M642.4 712.1l10 10M642.4 722.1l10 -10M647.8 718.9h11.6M653.6 713.1v11.6M648.6 713.9l10 10M648.6 723.9l10 -10M654 720.9h11.6M659.8 715.1v11.6M654.8 715.9l10 10M654.8 725.9l10 -10M660.2 722.5h11.6M666 716.7v11.6M661 717.5l10 10M661 727.5l10 -10M666.4 723.5h11.6M672.2 717.7v11.6M667.2 718.5l10 10M667.2 728.5l10 -10M672.6 724.8h11.6M678.4 719v11.6M673.5 719.8l10 10M673.5 729.8l10 -10M678.9 724.8h11.6M684.7 719v11.6M679.7 719.8l10 10M679.7 729.8l10 -10M685.1 724.8h11.6M690.9 719v11.6M685.9 719.8l10 10M685.9 729.8l10 -10M691.3 724.8h11.6M697.1 719v11.6M692.1 719.8l10 10M692.1 729.8l10 -10M697.5 724.8h11.6M703.3 719v11.6M698.3 719.8l10 10M698.3 729.8l10 -10M703.7 724.8h11.6M709.5 719v11.6M704.5 719.8l10 10M704.5 729.8l10 -10M709.9 724.8h11.6M715.7 719v11.6M710.7 719.8l10 10M710.7 729.8l10 -10M716.1 724.8h11.6M721.9 719v11.6M717 719.8l10 10M717 729.8l10 -10M722.4 724.8h11.6M728.2 719v11.6M723.2 719.8l10 10M723.2 729.8l10 -10M728.6 724.8h11.6M734.4 719v11.6M729.4 719.8l10 10M729.4 729.8l10 -10M734.8 724.8h11.6M740.6 719v11.6M735.6 719.8l10 10M735.6 729.8l10 -10M741 724.8h11.6M746.8 719v11.6M741.8 719.8l10 10M741.8 729.8l10 -10"/>
<path d="M131.6 41.3L137.8 41.3M137.8 41.3L144 41.3M144 41.3L150.2 41.3M150.2 41.3L156.5 41.3M156.5 41.3L162.7 41.3M162.7 41.3L168.9 41.3M168.9 41.3L175.1 41.3M175.1 41.3L181.3 41.3M181.3 41.3L187.5 41.3M187.5 41.3L193.7 41.3M193.7 41.3L200 41.3M200 41.3L206.2 41.3M206.2 41.3L212.4 41.3M212.4 41.3L218.6 41.3M218.6 41.3L224.8 41.3M224.8 41.3L231 41.3M231 41.3L237.2 41.3M237.2 41.3L243.5 41.3M243.5 41.3L249.7 41.3M249.7 41.3L255.9 41.3M255.9 41.3L262.1 41.3M262.1 41.3L268.3 41.3M268.3 41.3L274.5 41.3M274.5 41.3L280.7 41.3M280.7 41.3L287 41.6M287 41.6L293.2 41.9M293.2 41.9L299.4 42.2M299.4 42.2L305.6 42.5M305.6 42.5L311.8 42.8M311.8 42.8L318 43.2M318 43.2L324.2 43.7M324.2 43.7L330.5 44.5M330.5 44.5L336.7 46M336.7 46L342.9 48M342.9 48L349.1 50M349.1 50L355.3 52.5M355.3 52.5L361.5 56M361.5 56L367.7 60.5M367.7 60.5L374 66.6M374 66.6L380.2 74.8M380.2 74.8L386.4 83.5M386.4 83.5L392.6 91.7M392.6 91.7L398.8 102.1M398.8 102.1L405 117M405 117L411.2 133.2M411.2 133.2L417.5 158.5M417.5 158.5L423.7 187M423.7 187L429.9 213.5M429.9 213.5L436.1 258.3M436.1 258.3L442.3 289.7M442.3 289.7L448.5 329M448.5 329L454.7 383.5M454.7 383.5L461 433.2M461 433.2L467.2 473.9M467.2 473.9L473.4 524.9M473.4 524.9L479.6 567.7M479.6 567.7L485.8 613.5M485.8 613.5L492 637.4M492 637.4L498.2 658.8M498.2 658.8L504.4 673.9M504.4 673.9L510.7 683.9M510.7 683.9L516.9 695.2M516.9 695.2L523.1 705.3M523.1 705.3L529.3 712.8M529.3 712.8L535.5 717.9M535.5 717.9L541.7 721.1M541.7 721.1L547.9 723.5M547.9 723.5L554.2 724.8M554.2 724.8L560.4 724.8M560.4 724.8L566.6 724.8M566.6 724.8L572.8 724.8M572.8 724.8L579 724.8M579 724.8L585.2 724.8M585.2 724.8L591.4 724.8M591.4 724.8L597.7 724.8M597.7 724.8L603.9 724.8M603.9 724.8L610.1 724.8M610.1 724.8L616.3 724.8M616.3 724.8L622.5 724.8M622.5 724.8L628.7 724.8M628.7 724.8L634.9 724.8M634.9 724.8L641.2 724.8M641.2 724.8L647.4 724.8M647.4 724.8L653.6 724.8M653.6 724.8L659.8 724.8M659.8 724.8L666 724.8M666 724.8L672.2 724.8M672.2 724.8L678.4 724.8M678.4 724.8L684.7 724.8M684.7 724.8L690.9 724.8M690.9 724.8L697.1 724.8M697.1 724.8L703.3 724.8M703.3 724.8L709.5 724.8M709.5 724.8L715.7 724.8M715.7 724.8L721.9 724.8M721.9 724.8L728.2 724.8M728.2 724.8L734.4 724.8M734.4 724.8L740.6 724.8M740.6 724.8L746.8 724.8" stroke-dasharray="10.4 11.3"/>
<path d="M125.8 41.3h11.6M131.6 35.5v11.6M132 41.3h11.6M137.8 35.5v11.6M138.2 41.3h11.6M144 35.5v11.6M144.4 41.3h11.6M150.2 35.5v11.6M150.7 41.3h11.6M156.5 35.5v11.6M156.9 41.3h11.6M162.7 35.5v11.6M163.1 41.3h11.6M168.9 35.5v11.6M169.3 41.3h11.6M175.1 35.5v11.6M175.5 41.3h11.6M181.3 35.5v11.6M181.7 41.3h11.6M187.5 35.5v11.6M187.9 41.3h11.6M193.7 35.5v11.6M194.2 41.3h11.6M200 35.5v11.6M200.4 41.3h11.6M206.2 35.5v11.6M206.6 41.3h11.6M212.4 35.5v11.6M212.8 41.3h11.6M218.6 35.5v11.6M219 41.3h11.6M224.8 35.5v11.6M225.2 41.3h11.6M231 35.5v11.6M231.4 41.3h11.6M237.2 35.5v11.6M237.7 41.3h11.6M243.5 35.5v11.6M243.9 41.3h11.6M249.7 35.5v11.6M250.1 41.3h11.6M255.9 35.5v11.6M256.3 41.3h11.6M262.1 35.5v11.6M262.5 41.3h11.6M268.3 35.5v11.6M268.7 41.3h11.6M274.5 35.5v11.6M274.9 41.3h11.6M280.7 35.5v11.6M281.2 41.6h11.6M287 35.8v11.6M287.4 41.9h11.6M293.2 36.1v11.6M293.6 42.2h11.6M299.4 36.4v11.6M299.8 42.5h11.6M305.6 36.7v11.6M306 42.8h11.6M311.8 37v11.6M312.2 43.2h11.6M318 37.4v11.6M318.4 43.7h11.6M324.2 37.9v11.6M324.7 44.5h11.6M330.5 38.7v11.6M330.9 46h11.6M336.7 40.2v11.6M337.1 48h11.6M342.9 42.2v11.6M343.3 50h11.6M349.1 44.2v11.6M349.5 52.5h11.6M355.3 46.7v11.6M355.7 56h11.6M361.5 50.2v11.6M361.9 60.5h11.6M367.7 54.7v11.6M368.2 66.6h11.6M374 60.8v11.6M374.4 74.8h11.6M380.2 69v11.6M380.6 83.5h11.6M386.4 77.7v11.6M386.8 91.7h11.6M392.6 85.9v11.6M393 102.1h11.6M398.8 96.3v11.6M399.2 117h11.6M405 111.2v11.6M405.4 133.2h11.6M411.2 127.4v11.6M411.7 158.5h11.6M417.5 152.7v11.6M417.9 187h11.6M423.7 181.2v11.6M424.1 213.5h11.6M429.9 207.7v11.6M430.3 258.3h11.6M436.1 252.5v11.6M436.5 289.7h11.6M442.3 283.9v11.6M442.7 329h11.6M448.5 323.2v11.6M448.9 383.5h11.6M454.7 377.7v11.6M455.2 433.2h11.6M461 427.4v11.6M461.4 473.9h11.6M467.2 468.1v11.6M467.6 524.9h11.6M473.4 519.1v11.6M473.8 567.7h11.6M479.6 561.9v11.6M480 613.5h11.6M485.8 607.7v11.6M486.2 637.4h11.6M492 631.6v11.6M492.4 658.8h11.6M498.2 653v11.6M498.6 673.9h11.6M504.4 668.1v11.6M504.9 683.9h11.6M510.7 678.1v11.6M511.1 695.2h11.6M516.9 689.4v11.6M517.3 705.3h11.6M523.1 699.5v11.6M523.5 712.8h11.6M529.3 707v11.6M529.7 717.9h11.6M535.5 712.1v11.6M535.9 721.1h11.6M541.7 715.3v11.6M542.1 723.5h11.6M547.9 717.7v11.6M548.4 724.8h11.6M554.2 719v11.6M554.6 724.8h11.6M560.4 719v11.6M560.8 724.8h11.6M566.6 719v11.6M567 724.8h11.6M572.8 719v11.6M573.2 724.8h11.6M579 719v11.6M579.4 724.8h11.6M585.2 719v11.6M585.6 724.8h11.6M591.4 719v11.6M591.9 724.8h11.6M597.7 719v11.6M598.1 724.8h11.6M603.9 719v11.6M604.3 724.8h11.6M610.1 719v11.6M610.5 724.8h11.6M616.3 719v11.6M616.7 724.8h11.6M622.5 719v11.6M622.9 724.8h11.6M628.7 719v11.6M629.1 724.8h11.6M634.9 719v11.6M635.4 724.8h11.6M641.2 719v11.6M641.6 724.8h11.6M647.4 719v11.6M647.8 724.8h11.6M653.6 719v11.6M654 724.8h11.6M659.8 719v11.6M660.2 724.8h11.6M666 719v11.6M666.4 724.8h11.6M672.2 719v11.6M672.6 724.8h11.6M678.4 719v11.6M678.9 724.8h11.6M684.7 719v11.6M685.1 724.8h11.6M690.9 719v11.6M691.3 724.8h11.6M697.1 719v11.6M697.5 724.8h11.6M703.3 719v11.6M703.7 724.8h11.6M709.5 719v11.6M709.9 724.8h11.6M715.7 719v11.6M716.1 724.8h11.6M721.9 719v11.6M722.4 724.8h11.6M728.2 719v11.6M728.6 724.8h11.6M734.4 719v11.6M734.8 724.8h11.6M740.6 719v11.6M741 724.8h11.6M746.8 719v11.6"/>
</g>
<g fill="none" stroke-width="2.45" stroke-linejoin="round" clip-path="url(#cp)">
<path d="M131.6 41.3 L134.7 41.5 L137.8 41.6 L140.8 41.7 L143.8 41.8 L146.9 41.9 L149.9 41.9 L152.9 41.9 L155.9 42 L158.9 41.9 L161.8 41.9 L164.8 41.9 L167.8 41.8 L170.7 41.7 L173.7 41.6 L176.6 41.6 L179.6 41.5 L182.6 41.4 L185.5 41.3 L188.5 41.3 L191.4 41.3 L194.4 41.3 L197.4 41.3 L200.4 41.3 L203.4 41.3 L206.4 41.3 L209.4 41.3 L212.5 41.3 L215.5 41.3 L218.6 41.3 L221.6 41.3 L224.7 41.3 L227.8 41.3 L230.9 41.3 L234 41.3 L237.1 41.3 L240.1 41.3 L243.2 41.6 L246.2 42 L249.3 42.5 L252.3 43 L255.3 43.6 L258.3 44.3 L261.2 45.1 L264.1 46 L267 47 L269.8 48.1 L272.5 49.3 L275.1 50.6 L277.6 52.1 L280 53.6 L282.3 55.3 L284.5 57.1 L286.6 59 L288.6 61.1 L290.4 63.2 L292.2 65.4 L294 67.7 L295.6 70.1 L297.1 72.6 L298.6 75.1 L300 77.7 L301.3 80.4 L302.6 83.1 L303.8 85.8 L304.9 88.6 L306 91.5 L307.1 94.3 L308.1 97.2 L309 100.1 L309.9 103.1 L310.8 106 L311.7 108.9 L312.5 111.9 L313.3 114.8 L314.1 117.8 L314.8 120.7 L315.5 123.7 L316.2 126.6 L316.8 129.6 L317.5 132.5 L318.1 135.5 L318.7 138.4 L319.2 141.4 L319.8 144.4 L320.3 147.3 L320.8 150.3 L321.3 153.3 L321.8 156.3 L322.2 159.2 L322.7 162.2 L323.1 165.2 L323.5 168.2 L323.9 171.2 L324.3 174.1 L324.7 177.1 L325.1 180.1 L325.5 183.1 L325.8 186.1 L326.2 189.1 L326.6 192.1 L326.9 195 L327.2 198 L327.6 201 L327.9 204 L328.2 207 L328.5 210 L328.9 213 L329.2 216 L329.5 219 L329.8 221.9 L330.1 224.9 L330.4 227.9 L330.7 230.9 L330.9 233.9 L331.2 236.9 L331.5 239.9 L331.8 242.9 L332 245.9 L332.3 248.9 L332.6 251.9 L332.8 254.9 L333.1 257.9 L333.3 260.9 L333.6 263.9 L333.8 266.8 L334.1 269.8 L334.3 272.8 L334.6 275.8 L334.8 278.8 L335.1 281.8 L335.3 284.8 L335.5 287.8 L335.8 290.8 L336 293.8 L336.2 296.8 L336.4 299.8 L336.7 302.8 L336.9 305.8 L337.1 308.8 L337.3 311.8 L337.6 314.8 L337.8 317.8 L338 320.8 L338.2 323.8 L338.4 326.8 L338.7 329.8 L338.9 332.8 L339.1 335.8 L339.3 338.8 L339.6 341.8 L339.8 344.8 L340 347.8 L340.2 350.8 L340.5 353.8 L340.7 356.8 L340.9 359.8 L341.1 362.8 L341.4 365.8 L341.6 368.7 L341.8 371.7 L342.1 374.7 L342.3 377.7 L342.5 380.7 L342.8 383.7 L343 386.7 L343.3 389.7 L343.5 392.7 L343.8 395.7 L344 398.7 L344.3 401.7 L344.5 404.7 L344.8 407.7 L345.1 410.7 L345.3 413.7 L345.6 416.7 L345.9 419.7 L346.2 422.6 L346.5 425.6 L346.7 428.6 L347 431.6 L347.3 434.6 L347.6 437.6 L347.9 440.6 L348.3 443.6 L348.6 446.6 L348.9 449.5 L349.2 452.5 L349.5 455.5 L349.9 458.5 L350.2 461.5 L350.6 464.5 L350.9 467.5 L351.3 470.4 L351.6 473.4 L352 476.4 L352.4 479.4 L352.8 482.4 L353.1 485.4 L353.5 488.3 L353.9 491.3 L354.3 494.3 L354.7 497.3 L355.2 500.3 L355.6 503.2 L356 506.2 L356.4 509.2 L356.9 512.2 L357.3 515.1 L357.7 518.1 L358.2 521.1 L358.7 524.1 L359.1 527 L359.6 530 L360 533 L360.5 535.9 L361 538.9 L361.5 541.9 L362 544.8 L362.5 547.8 L363 550.8 L363.5 553.7 L364 556.7 L364.5 559.7 L365 562.6 L365.6 565.6 L366.1 568.5 L366.6 571.5 L367.2 574.5 L367.7 577.4 L368.3 580.4 L368.9 583.3 L369.4 586.3 L370 589.2 L370.6 592.2 L371.1 595.1 L371.7 598.1 L372.3 601 L372.9 604 L373.5 606.9 L374.1 609.9 L374.7 612.8 L375.3 615.8 L375.9 618.7 L376.6 621.6 L377.2 624.6 L377.8 627.5 L378.5 630.5 L379.1 633.4 L379.8 636.3 L380.4 639.3 L381.1 642.2 L381.7 645.1 L382.4 648.1 L383.1 651 L383.7 653.9 L384.4 656.8 L385.1 659.8 L385.8 662.7 L386.5 665.6 L387.2 668.5 L387.9 671.5 L388.6 674.4 L389.3 677.3 L390 680.2 L390.8 683.1 L391.5 686 L392.2 689 L393.9 691.4 L395.6 694 L397.4 696.5 L399.2 699.1 L401 701.6 L402.9 704.1 L404.8 706.6 L406.8 709 L408.9 711.3 L411 713.5 L413.3 715.6 L415.7 717.5 L418.1 719.3 L420.7 720.9 L423.4 722.3 L426.3 723.5 L429.3 724.5 L431.8 724.8" stroke="#B03060"/>
<path d="M131.6 41.3 L134.6 41.4 L137.6 41.5 L140.6 41.6 L143.5 41.7 L146.5 41.8 L149.5 41.8 L152.4 41.9 L155.4 42 L158.3 42.1 L161.3 42.2 L164.3 42.4 L167.3 42.6 L170.3 42.8 L173.3 43 L176.3 43.3 L179.4 43.6 L182.5 44 L185.6 44.4 L188.6 44.8 L191.7 45.4 L194.8 46 L197.8 46.6 L200.8 47.3 L203.8 48.2 L206.7 49 L209.6 50 L212.4 51.1 L215.2 52.2 L217.9 53.5 L220.5 54.8 L223.1 56.3 L225.5 57.8 L227.9 59.5 L230.2 61.2 L232.5 63 L234.7 64.9 L236.8 66.9 L238.8 69 L240.8 71.1 L242.7 73.3 L244.5 75.6 L246.3 77.9 L248.1 80.3 L249.8 82.7 L251.4 85.2 L253 87.7 L254.5 90.3 L256 93 L257.5 95.6 L258.9 98.3 L260.2 101 L261.6 103.8 L262.9 106.5 L264.1 109.3 L265.3 112.1 L266.5 114.9 L267.7 117.7 L268.9 120.5 L270 123.4 L271.1 126.2 L272.1 129 L273.2 131.9 L274.2 134.7 L275.2 137.6 L276.2 140.4 L277.1 143.3 L278.1 146.1 L279 149 L279.9 151.9 L280.7 154.7 L281.6 157.6 L282.4 160.5 L283.3 163.4 L284.1 166.3 L284.9 169.1 L285.7 172 L286.4 174.9 L287.2 177.8 L287.9 180.7 L288.6 183.6 L289.4 186.6 L290.1 189.5 L290.8 192.4 L291.5 195.3 L292.2 198.2 L292.8 201.1 L293.5 204.1 L294.2 207 L294.8 209.9 L295.5 212.9 L296.1 215.8 L296.8 218.7 L297.4 221.7 L298 224.6 L298.7 227.6 L299.3 230.5 L299.9 233.5 L300.5 236.4 L301.1 239.4 L301.7 242.3 L302.3 245.3 L302.9 248.2 L303.5 251.2 L304.1 254.1 L304.7 257.1 L305.2 260 L305.8 263 L306.4 266 L307 268.9 L307.5 271.9 L308.1 274.9 L308.6 277.8 L309.2 280.8 L309.7 283.7 L310.3 286.7 L310.8 289.7 L311.4 292.6 L311.9 295.6 L312.4 298.6 L313 301.5 L313.5 304.5 L314 307.5 L314.5 310.4 L315 313.4 L315.6 316.3 L316.1 319.3 L316.6 322.3 L317.1 325.2 L317.6 328.2 L318.1 331.1 L318.6 334.1 L319.1 337 L319.6 340 L320.1 343 L320.6 345.9 L321.1 348.9 L321.6 351.8 L322.1 354.8 L322.6 357.7 L323.1 360.7 L323.6 363.6 L324.2 366.5 L324.7 369.5 L325.2 372.4 L325.7 375.4 L326.2 378.3 L326.8 381.3 L327.3 384.2 L327.8 387.1 L328.4 390.1 L328.9 393 L329.5 395.9 L330 398.9 L330.6 401.8 L331.2 404.7 L331.8 407.7 L332.4 410.6 L333 413.5 L333.6 416.5 L334.3 419.4 L334.9 422.3 L335.6 425.3 L336.2 428.2 L336.9 431.1 L337.6 434.1 L338.3 437 L339 439.9 L339.7 442.8 L340.4 445.8 L341.1 448.7 L341.9 451.6 L342.6 454.5 L343.3 457.5 L344 460.4 L344.7 463.3 L345.5 466.2 L346.2 469.2 L346.9 472.1 L347.6 475 L348.3 477.9 L349 480.9 L349.7 483.8 L350.3 486.7 L351 489.6 L351.7 492.6 L352.3 495.5 L353 498.4 L353.6 501.3 L354.3 504.2 L354.9 507.2 L355.6 510.1 L356.2 513 L356.8 515.9 L357.5 518.9 L358.1 521.8 L358.8 524.7 L359.4 527.6 L360.1 530.6 L360.7 533.5 L361.4 536.4 L362.1 539.3 L362.7 542.3 L363.4 545.2 L364.1 548.1 L364.8 551 L365.5 554 L366.2 556.9 L367 559.8 L367.7 562.7 L368.5 565.7 L369.3 568.6 L370.1 571.5 L370.9 574.5 L371.7 577.4 L372.5 580.3 L373.3 583.3 L374.1 586.2 L374.9 589.1 L375.8 592.1 L376.6 595 L377.4 597.9 L378.2 600.9 L378.9 603.8 L379.7 606.7 L380.5 609.7 L381.2 612.6 L381.9 615.6 L382.6 618.5 L383.2 621.4 L383.9 624.4 L384.5 627.3 L385.1 630.3 L385.7 633.2 L386.3 636.1 L386.9 639.1 L387.4 642 L388 644.9 L388.6 647.9 L389.2 650.8 L389.8 653.7 L390.4 656.6 L391 659.5 L391.6 662.4 L392.3 665.4 L392.9 668.2 L393.6 671.1 L394.3 674 L395.1 676.9 L395.9 679.8 L396.7 682.6 L397.6 685.5 L398.4 688.3 L399.4 691.2 L400.4 694 L401.4 696.8 L402.5 699.6 L403.6 702.4 L404.8 705.2 L406.1 707.9 L407.6 710.5 L409.1 713 L410.8 715.3 L412.7 717.5 L414.8 719.4 L417.1 721.2 L419.6 722.6 L422.4 723.7 L425.5 724.5 L428 724.8" stroke="#006400"/>
<path d="M131.6 41.3 L134.6 41.3 L137.6 41.3 L140.6 41.3 L143.6 41.4 L146.6 41.4 L149.6 41.4 L152.6 41.4 L155.6 41.4 L158.7 41.4 L161.7 41.4 L164.7 41.4 L167.7 41.4 L170.7 41.4 L173.7 41.4 L176.7 41.4 L179.7 41.4 L182.7 41.4 L185.7 41.4 L188.8 41.4 L191.8 41.4 L194.8 41.4 L197.8 41.4 L200.8 41.4 L203.8 41.4 L206.8 41.4 L209.8 41.4 L212.8 41.4 L215.9 41.4 L218.9 41.4 L221.9 41.4 L224.9 41.5 L227.9 41.5 L230.9 41.5 L233.9 41.5 L236.9 41.5 L239.9 41.6 L242.9 41.6 L245.9 41.6 L248.9 41.7 L252 41.7 L255 41.8 L258 41.8 L261 41.9 L264 41.9 L267 42 L270 42.1 L273 42.1 L276 42.2 L279 42.2 L282 42.3 L285 42.4 L288 42.4 L291 42.5 L294 42.6 L297 42.6 L300 42.7 L303 42.7 L306 42.8 L309 42.8 L312 42.9 L315 42.9 L318 43 L321 43 L324 43 L327 43.1 L330 43.1 L333.1 43.1 L336.1 43.2 L339.1 43.2 L342.1 43.3 L345.1 43.4 L348.1 43.5 L351.2 43.7 L354.2 43.9 L357.2 44.1 L360.2 44.4 L363.3 44.7 L366.3 45.1 L369.3 45.5 L372.3 46.1 L375.3 46.7 L378.3 47.5 L381.1 48.4 L383.9 49.5 L386.7 50.9 L389.3 52.4 L391.8 54.1 L394.2 55.9 L396.4 57.9 L398.5 60 L400.5 62.3 L402.2 64.7 L403.9 67.1 L405.3 69.7 L406.7 72.3 L408 75 L409.1 77.7 L410.2 80.5 L411.2 83.3 L412.2 86.1 L413.1 89 L414 91.8 L414.9 94.7 L415.7 97.5 L416.4 100.4 L417.2 103.3 L417.9 106.2 L418.5 109.1 L419.2 112 L419.8 114.9 L420.3 117.8 L420.9 120.7 L421.4 123.7 L421.9 126.6 L422.4 129.6 L422.8 132.5 L423.2 135.5 L423.6 138.5 L424 141.4 L424.4 144.4 L424.8 147.4 L425.1 150.4 L425.4 153.4 L425.8 156.4 L426.1 159.4 L426.4 162.4 L426.7 165.4 L427 168.4 L427.2 171.4 L427.5 174.4 L427.8 177.4 L428.1 180.4 L428.4 183.4 L428.7 186.4 L429 189.4 L429.3 192.4 L429.6 195.5 L429.9 198.5 L430.2 201.5 L430.5 204.5 L430.9 207.5 L431.2 210.5 L431.6 213.5 L431.9 216.5 L432.3 219.5 L432.6 222.5 L433 225.5 L433.4 228.5 L433.8 231.5 L434.1 234.5 L434.5 237.5 L434.9 240.5 L435.3 243.5 L435.7 246.5 L436.1 249.5 L436.5 252.5 L436.9 255.5 L437.4 258.4 L437.8 261.4 L438.2 264.4 L438.6 267.4 L439 270.4 L439.5 273.4 L439.9 276.4 L440.3 279.4 L440.8 282.4 L441.2 285.3 L441.7 288.3 L442.1 291.3 L442.6 294.3 L443 297.3 L443.5 300.3 L443.9 303.2 L444.4 306.2 L444.8 309.2 L445.3 312.2 L445.7 315.2 L446.2 318.1 L446.6 321.1 L447.1 324.1 L447.5 327.1 L448 330 L448.5 333 L448.9 336 L449.4 339 L449.8 341.9 L450.3 344.9 L450.7 347.9 L451.2 350.8 L451.6 353.8 L452.1 356.8 L452.5 359.8 L453 362.7 L453.4 365.7 L453.8 368.7 L454.3 371.6 L454.7 374.6 L455.2 377.6 L455.6 380.5 L456.1 383.5 L456.5 386.4 L456.9 389.4 L457.4 392.4 L457.8 395.3 L458.3 398.3 L458.7 401.2 L459.2 404.2 L459.6 407.2 L460.1 410.1 L460.5 413.1 L461 416 L461.4 419 L461.9 421.9 L462.3 424.9 L462.8 427.9 L463.3 430.8 L463.7 433.8 L464.2 436.7 L464.7 439.7 L465.2 442.6 L465.7 445.6 L466.2 448.5 L466.6 451.5 L467.1 454.4 L467.6 457.4 L468.2 460.3 L468.7 463.3 L469.2 466.2 L469.7 469.2 L470.2 472.1 L470.8 475 L471.3 478 L471.9 480.9 L472.4 483.9 L473 486.8 L473.5 489.8 L474.1 492.7 L474.7 495.7 L475.3 498.6 L475.9 501.5 L476.5 504.5 L477.1 507.4 L477.7 510.4 L478.3 513.3 L479 516.2 L479.6 519.2 L480.2 522.1 L480.9 525 L481.6 528 L482.2 530.9 L482.9 533.8 L483.6 536.8 L484.3 539.7 L485 542.6 L485.7 545.6 L486.5 548.5 L487.2 551.4 L487.9 554.4 L488.6 557.3 L489.4 560.2 L490.1 563.2 L490.9 566.1 L491.6 569 L492.4 571.9 L493.1 574.9 L493.9 577.8 L494.7 580.7 L495.4 583.7 L496.2 586.6 L497 589.5 L497.7 592.4 L498.5 595.4 L499.3 598.3 L500 601.2 L500.8 604.1 L501.6 607.1 L502.3 610 L503.1 612.9 L503.9 615.8 L504.6 618.7 L505.4 621.7 L506.2 624.6 L506.9 627.5 L507.7 630.4 L508.4 633.3 L509.2 636.3 L509.9 639.2 L510.7 642.1 L511.4 645 L512.1 647.9 L512.8 650.8 L513.5 653.8 L514.2 656.7 L514.9 659.6 L515.6 662.5 L516.3 665.4 L516.9 668.3 L517.5 671.3 L518.1 674.2 L518.7 677.1 L519.3 680 L519.8 682.9 L520.3 685.8 L520.9 688.7 L521.4 691.6 L521.9 694.6 L522.4 697.5 L523 700.4 L523.6 703.3 L524.3 706.2 L524.9 709.1 L525.7 712 L526.5 714.9 L527.4 717.8 L528.4 720.7 L529.5 723.6 L532 724.8" stroke="#7FFFD4"/>
<path d="M131.9 41.3 L135 41.5 L138 41.9 L141.1 42.2 L144.1 42.7 L147.1 43.2 L150.1 43.8 L153 44.5 L155.9 45.2 L158.8 46.1 L161.7 47 L164.5 48 L167.3 49.1 L170 50.4 L172.7 51.7 L175.3 53 L177.9 54.5 L180.4 56.1 L182.9 57.7 L185.3 59.5 L187.6 61.3 L189.9 63.2 L192.1 65.1 L194.2 67.2 L196.2 69.3 L198.2 71.5 L200.1 73.8 L201.9 76.1 L203.7 78.5 L205.4 80.9 L207 83.4 L208.6 85.9 L210.1 88.5 L211.6 91.1 L213 93.8 L214.3 96.5 L215.6 99.2 L216.9 101.9 L218.1 104.7 L219.3 107.5 L220.4 110.3 L221.5 113.2 L222.6 116 L223.7 118.8 L224.7 121.7 L225.7 124.5 L226.6 127.4 L227.5 130.2 L228.5 133.1 L229.3 136 L230.2 138.8 L231 141.7 L231.9 144.6 L232.7 147.5 L233.4 150.4 L234.2 153.3 L235 156.2 L235.7 159.1 L236.4 162 L237.2 164.9 L237.9 167.8 L238.6 170.7 L239.2 173.6 L239.9 176.5 L240.6 179.4 L241.3 182.4 L241.9 185.3 L242.6 188.2 L243.2 191.1 L243.9 194.1 L244.5 197 L245.2 199.9 L245.8 202.9 L246.5 205.8 L247.1 208.8 L247.8 211.7 L248.4 214.6 L249.1 217.6 L249.7 220.5 L250.4 223.5 L251 226.4 L251.7 229.4 L252.3 232.3 L252.9 235.3 L253.6 238.2 L254.2 241.2 L254.8 244.1 L255.4 247.1 L256 250 L256.6 253 L257.2 255.9 L257.8 258.9 L258.3 261.8 L258.9 264.8 L259.5 267.7 L260 270.7 L260.6 273.6 L261.1 276.6 L261.7 279.5 L262.2 282.5 L262.8 285.4 L263.3 288.4 L263.8 291.3 L264.4 294.3 L264.9 297.3 L265.4 300.2 L265.9 303.2 L266.4 306.1 L267 309.1 L267.5 312 L268 315 L268.5 317.9 L269 320.9 L269.5 323.8 L270 326.8 L270.5 329.7 L271 332.7 L271.5 335.6 L272 338.6 L272.5 341.5 L273 344.5 L273.5 347.4 L274 350.4 L274.5 353.3 L275 356.3 L275.5 359.2 L276 362.2 L276.5 365.1 L277 368.1 L277.5 371 L278 374 L278.5 376.9 L279 379.9 L279.6 382.8 L280.1 385.8 L280.6 388.7 L281.1 391.7 L281.6 394.6 L282.2 397.6 L282.7 400.5 L283.2 403.4 L283.8 406.4 L284.3 409.3 L284.9 412.3 L285.4 415.2 L286 418.2 L286.5 421.1 L287.1 424 L287.7 427 L288.3 429.9 L288.8 432.9 L289.4 435.8 L290 438.7 L290.6 441.7 L291.2 444.6 L291.8 447.6 L292.5 450.5 L293.1 453.4 L293.7 456.4 L294.4 459.3 L295 462.2 L295.7 465.2 L296.3 468.1 L297 471 L297.7 473.9 L298.4 476.9 L299.1 479.8 L299.8 482.7 L300.5 485.7 L301.2 488.6 L302 491.5 L302.7 494.4 L303.5 497.4 L304.2 500.3 L305 503.2 L305.8 506.1 L306.6 509 L307.4 512 L308.2 514.9 L309 517.8 L309.8 520.7 L310.6 523.6 L311.5 526.5 L312.3 529.5 L313.1 532.4 L314 535.3 L314.8 538.2 L315.7 541.1 L316.5 544 L317.4 546.9 L318.2 549.8 L319.1 552.7 L320 555.6 L320.8 558.5 L321.7 561.4 L322.6 564.3 L323.5 567.2 L324.4 570.1 L325.2 573 L326.1 575.9 L327 578.8 L327.9 581.7 L328.8 584.6 L329.6 587.5 L330.5 590.4 L331.4 593.2 L332.3 596.1 L333.2 599 L334 601.9 L334.9 604.8 L335.8 607.7 L336.6 610.5 L337.5 613.4 L338.4 616.3 L339.2 619.2 L340.1 622 L340.9 624.9 L341.8 627.8 L342.6 630.7 L343.5 633.5 L344.3 636.4 L345.2 639.2 L346 642.1 L346.9 645 L347.7 647.8 L348.6 650.7 L349.5 653.5 L350.3 656.4 L351.2 659.3 L352.1 662.1 L353 665 L353.9 667.8 L354.8 670.6 L355.7 673.5 L356.6 676.3 L357.5 679.2 L358.5 682 L359.4 684.9 L360.4 687.7 L361.3 690.5 L362.3 693.4 L363.3 696.2 L364.4 699 L365.4 701.8 L366.4 704.7 L368 707.6 L369.9 710.3 L372 712.7 L374.3 714.9 L376.9 716.9 L379.6 718.7 L382.5 720.3 L385.5 721.6 L388.5 722.8 L391.6 723.8 L394.1 724.8" stroke="#FF0000"/>
<path d="M131.6 41.3 L134.7 41.3 L137.7 41.4 L140.7 41.4 L143.7 41.4 L146.7 41.3 L149.6 41.3 L152.6 41.3 L155.5 41.3 L158.5 41.3 L161.4 41.3 L164.4 41.3 L167.4 41.3 L170.4 41.4 L173.4 41.5 L176.4 41.6 L179.5 41.8 L182.5 42 L185.6 42.2 L188.7 42.5 L191.8 42.9 L194.9 43.3 L198 43.7 L201 44.3 L204.1 44.9 L207.1 45.5 L210 46.3 L213 47.1 L215.9 48 L218.7 49 L221.5 50.1 L224.2 51.3 L226.8 52.6 L229.4 54.1 L231.9 55.6 L234.4 57.2 L236.8 58.8 L239.1 60.6 L241.3 62.5 L243.5 64.4 L245.6 66.4 L247.7 68.5 L249.7 70.7 L251.7 72.9 L253.6 75.2 L255.5 77.5 L257.3 79.9 L259 82.4 L260.7 84.9 L262.4 87.4 L264 90 L265.6 92.6 L267.1 95.2 L268.6 97.8 L270 100.5 L271.4 103.2 L272.8 105.9 L274.2 108.6 L275.5 111.4 L276.7 114.1 L278 116.8 L279.2 119.6 L280.4 122.4 L281.5 125.1 L282.7 127.9 L283.8 130.7 L284.8 133.5 L285.9 136.3 L286.9 139.1 L287.9 141.9 L288.9 144.8 L289.8 147.6 L290.7 150.5 L291.7 153.3 L292.5 156.2 L293.4 159 L294.3 161.9 L295.1 164.8 L295.9 167.6 L296.7 170.5 L297.5 173.4 L298.3 176.3 L299.1 179.2 L299.8 182.1 L300.6 185 L301.3 187.9 L302 190.9 L302.8 193.8 L303.5 196.7 L304.1 199.6 L304.8 202.6 L305.5 205.5 L306.2 208.4 L306.8 211.4 L307.5 214.3 L308.1 217.3 L308.8 220.2 L309.4 223.2 L310 226.2 L310.6 229.1 L311.2 232.1 L311.8 235 L312.4 238 L313 241 L313.5 243.9 L314.1 246.9 L314.7 249.9 L315.2 252.9 L315.8 255.8 L316.4 258.8 L316.9 261.8 L317.4 264.7 L318 267.7 L318.5 270.7 L319.1 273.7 L319.6 276.6 L320.1 279.6 L320.6 282.6 L321.1 285.5 L321.7 288.5 L322.2 291.5 L322.7 294.4 L323.2 297.4 L323.7 300.4 L324.2 303.3 L324.7 306.3 L325.2 309.3 L325.7 312.2 L326.2 315.2 L326.7 318.2 L327.2 321.1 L327.6 324.1 L328.1 327 L328.6 330 L329.1 333 L329.6 335.9 L330 338.9 L330.5 341.9 L331 344.8 L331.5 347.8 L331.9 350.7 L332.4 353.7 L332.9 356.7 L333.3 359.6 L333.8 362.6 L334.2 365.6 L334.7 368.5 L335.2 371.5 L335.6 374.4 L336.1 377.4 L336.5 380.4 L337 383.3 L337.5 386.3 L337.9 389.2 L338.4 392.2 L338.8 395.2 L339.3 398.1 L339.7 401.1 L340.2 404.1 L340.6 407 L341.1 410 L341.5 412.9 L342 415.9 L342.4 418.9 L342.9 421.8 L343.3 424.8 L343.8 427.8 L344.2 430.7 L344.7 433.7 L345.1 436.7 L345.6 439.6 L346 442.6 L346.5 445.6 L346.9 448.5 L347.4 451.5 L347.9 454.5 L348.3 457.4 L348.8 460.4 L349.2 463.4 L349.7 466.4 L350.1 469.3 L350.6 472.3 L351 475.3 L351.5 478.2 L351.9 481.2 L352.4 484.2 L352.8 487.2 L353.3 490.1 L353.7 493.1 L354.1 496.1 L354.6 499.1 L355 502.1 L355.4 505 L355.9 508 L356.3 511 L356.7 514 L357.1 517 L357.6 519.9 L358 522.9 L358.4 525.9 L358.8 528.9 L359.2 531.9 L359.6 534.9 L360 537.9 L360.4 540.9 L360.8 543.8 L361.2 546.8 L361.5 549.8 L361.9 552.8 L362.3 555.8 L362.7 558.8 L363 561.8 L363.4 564.8 L363.7 567.8 L364.1 570.8 L364.4 573.8 L364.7 576.8 L365.1 579.8 L365.4 582.8 L365.7 585.8 L366.1 588.8 L366.4 591.8 L366.7 594.8 L367.1 597.8 L367.4 600.8 L367.7 603.8 L368 606.8 L368.4 609.8 L368.7 612.8 L369.1 615.8 L369.4 618.8 L369.8 621.8 L370.1 624.8 L370.5 627.8 L370.9 630.8 L371.2 633.8 L371.6 636.8 L372 639.7 L372.4 642.7 L372.8 645.7 L373.2 648.6 L373.7 651.6 L374.1 654.6 L374.6 657.5 L375 660.5 L375.5 663.4 L376 666.4 L376.5 669.3 L377 672.3 L377.6 675.2 L378.1 678.1 L378.7 681 L379.3 684 L379.9 686.9 L380.5 689.8 L381.1 692.7 L381.8 695.5 L382.6 698.4 L383.4 701.2 L384.2 704 L385.2 706.8 L386.3 709.5 L387.4 712.2 L388.7 714.9 L390.2 717.4 L391.7 719.9 L393.5 722.4 L395.4 724.8 L397.9 724.8" stroke="#BA55D3"/>
<path d="M131.9 41.3 L150.1 41.3 L155.8 87.2 L158.7 87.4 L161.6 87.6 L164.5 87.7 L167.5 87.9 L170.5 88.1 L173.5 88.2 L176.5 88.4 L179.6 88.5 L182.6 88.7 L185.7 88.9 L188.7 89.1 L191.8 89.4 L194.9 89.7 L197.9 90 L201 90.4 L204 90.8 L207 91.3 L210.1 91.8 L213.1 92.4 L216 93.1 L219 93.8 L221.9 94.6 L224.8 95.5 L227.7 96.4 L230.5 97.5 L233.3 98.6 L236 99.8 L238.7 101.1 L241.4 102.5 L244 103.9 L246.5 105.5 L249 107.1 L251.5 108.8 L253.9 110.6 L256.2 112.4 L258.5 114.3 L260.8 116.3 L263 118.3 L265.2 120.4 L267.3 122.5 L269.3 124.7 L271.3 126.9 L273.3 129.1 L275.2 131.4 L277.1 133.8 L278.9 136.1 L280.6 138.5 L282.4 141 L284 143.4 L285.7 145.9 L287.2 148.5 L288.8 151 L290.3 153.6 L291.7 156.2 L293.1 158.8 L294.5 161.5 L295.8 164.2 L297.1 166.9 L298.4 169.6 L299.6 172.3 L300.7 175.1 L301.9 177.9 L303 180.7 L304 183.5 L305.1 186.3 L306.1 189.2 L307.1 192 L308 194.9 L309 197.8 L309.9 200.6 L310.8 203.5 L311.6 206.4 L312.5 209.4 L313.4 212.3 L314.2 215.2 L315 218.1 L315.9 221 L316.7 224 L317.5 226.9 L318.3 229.8 L319.1 232.7 L319.9 235.7 L320.7 238.6 L321.5 241.5 L322.3 244.5 L323.1 247.4 L323.9 250.3 L324.7 253.3 L325.5 256.2 L326.3 259.1 L327 262 L327.8 265 L328.6 267.9 L329.3 270.8 L330.1 273.8 L330.8 276.7 L331.6 279.6 L332.3 282.6 L333 285.5 L333.8 288.4 L334.5 291.4 L335.2 294.3 L335.9 297.2 L336.6 300.2 L337.3 303.1 L338 306 L338.7 309 L339.3 311.9 L340 314.8 L340.7 317.8 L341.3 320.7 L341.9 323.6 L342.6 326.6 L343.2 329.5 L343.8 332.4 L344.4 335.4 L345.1 338.3 L345.7 341.2 L346.2 344.2 L346.8 347.1 L347.4 350 L348 353 L348.6 355.9 L349.2 358.8 L349.8 361.8 L350.4 364.7 L350.9 367.6 L351.5 370.6 L352.1 373.5 L352.7 376.4 L353.4 379.3 L354 382.3 L354.6 385.2 L355.2 388.1 L355.8 391.1 L356.4 394 L357.1 396.9 L357.7 399.9 L358.3 402.8 L359 405.7 L359.6 408.6 L360.3 411.6 L360.9 414.5 L361.6 417.4 L362.2 420.3 L362.9 423.3 L363.6 426.2 L364.2 429.1 L364.9 432 L365.6 435 L366.3 437.9 L367 440.8 L367.6 443.7 L368.3 446.7 L369 449.6 L369.7 452.5 L370.4 455.4 L371.2 458.4 L371.9 461.3 L372.6 464.2 L373.3 467.1 L374 470 L374.8 473 L375.5 475.9 L376.2 478.8 L377 481.7 L377.7 484.6 L378.5 487.5 L379.2 490.4 L380 493.4 L380.8 496.3 L381.5 499.2 L382.3 502.1 L383.1 505 L383.9 507.9 L384.7 510.8 L385.5 513.7 L386.3 516.6 L387.1 519.6 L387.9 522.5 L388.7 525.4 L389.5 528.3 L390.4 531.2 L391.2 534.1 L392 537 L392.9 539.9 L393.7 542.8 L394.6 545.7 L395.4 548.6 L396.3 551.5 L397.2 554.4 L398 557.3 L398.9 560.2 L399.8 563.1 L400.7 566 L401.6 568.9 L402.5 571.8 L403.4 574.6 L404.3 577.5 L405.5 580.4 L406.6 583.2 L407.8 586 L408.9 588.8 L410.1 591.6 L411.2 594.4 L412.4 597.2 L413.5 600 L414.6 602.8 L415.7 605.6 L416.8 608.4 L417.9 611.2 L418.9 614 L420 616.8 L421 619.6 L422.1 622.4 L423.1 625.2 L424.1 628.1 L425.1 630.9 L426 633.8 L427 636.6 L427.9 639.5 L428.8 642.3 L429.7 645.2 L430.6 648.1 L431.5 651 L432.3 653.9 L433.2 656.9 L434 659.8 L434.7 662.8 L435.5 665.8 L436.3 668.7 L437 671.7 L437.8 674.7 L438.5 677.6 L439.3 680.6 L440.1 683.5 L440.9 686.5 L441.7 689.4 L442.5 692.3 L443.4 695.2 L444.3 698 L445.2 700.8 L446.2 703.6 L447.2 706.4 L448.3 709.1 L449.4 711.8 L450.6 714.4 L452 716.9 L453.6 719.3 L455.5 721.6 L457.8 723.6 L460.3 724.8" stroke="#FF00FF"/>
<path d="M150.5 41.3 L153.6 41.4 L156.6 41.5 L159.6 41.6 L162.7 41.7 L165.7 41.7 L168.7 41.7 L171.7 41.7 L174.7 41.7 L177.7 41.7 L180.6 41.7 L183.6 41.6 L186.6 41.6 L189.5 41.5 L192.5 41.5 L195.5 41.4 L198.4 41.4 L201.4 41.4 L204.3 41.3 L207.3 41.3 L210.3 41.3 L213.2 41.3 L216.2 41.3 L219.2 41.3 L222.2 41.4 L225.1 41.5 L228.1 41.6 L231.1 41.7 L234.2 41.8 L237.2 42 L240.2 42.2 L243.2 42.5 L246.2 42.8 L249.2 43.1 L252.2 43.5 L255.3 43.9 L258.3 44.3 L261.3 44.8 L264.3 45.4 L267.3 46 L270.3 46.6 L273.3 47.3 L276.3 48.1 L279.3 48.9 L282.3 49.8 L285.3 50.8 L288.2 51.8 L291.1 52.9 L294 54.1 L296.8 55.3 L299.6 56.6 L302.3 58 L305 59.5 L307.5 61 L310 62.6 L312.4 64.3 L314.7 66.1 L317 68 L319.2 69.9 L321.3 71.9 L323.3 73.9 L325.3 76 L327.2 78.2 L329 80.4 L330.8 82.7 L332.5 85.1 L334.2 87.4 L335.8 89.9 L337.3 92.3 L338.8 94.9 L340.2 97.4 L341.6 100 L343 102.6 L344.3 105.3 L345.5 107.9 L346.7 110.6 L347.9 113.4 L349 116.1 L350.1 118.9 L351.2 121.7 L352.2 124.5 L353.2 127.3 L354.2 130.1 L355.1 133 L356 135.9 L356.9 138.8 L357.8 141.6 L358.6 144.6 L359.4 147.5 L360.2 150.4 L361 153.3 L361.8 156.2 L362.6 159.2 L363.3 162.1 L364.1 165.1 L364.8 168 L365.6 170.9 L366.3 173.9 L367 176.8 L367.7 179.7 L368.4 182.7 L369.1 185.6 L369.8 188.6 L370.5 191.5 L371.1 194.5 L371.8 197.4 L372.4 200.4 L373.1 203.3 L373.7 206.3 L374.4 209.2 L375 212.2 L375.6 215.1 L376.2 218.1 L376.8 221 L377.4 224 L378 226.9 L378.6 229.9 L379.1 232.8 L379.7 235.8 L380.3 238.7 L380.8 241.7 L381.4 244.7 L381.9 247.6 L382.5 250.6 L383 253.5 L383.5 256.5 L384 259.5 L384.6 262.4 L385.1 265.4 L385.6 268.3 L386.1 271.3 L386.6 274.3 L387.1 277.2 L387.5 280.2 L388 283.2 L388.5 286.1 L389 289.1 L389.4 292.1 L389.9 295 L390.4 298 L390.8 301 L391.3 303.9 L391.7 306.9 L392.2 309.9 L392.6 312.8 L393.1 315.8 L393.5 318.8 L393.9 321.8 L394.3 324.7 L394.8 327.7 L395.2 330.7 L395.6 333.6 L396 336.6 L396.4 339.6 L396.9 342.6 L397.3 345.5 L397.7 348.5 L398.1 351.5 L398.5 354.4 L398.9 357.4 L399.3 360.4 L399.7 363.4 L400.1 366.3 L400.5 369.3 L400.9 372.3 L401.3 375.3 L401.6 378.2 L402 381.2 L402.4 384.2 L402.8 387.2 L403.2 390.1 L403.6 393.1 L404 396.1 L404.3 399.1 L404.7 402 L405.1 405 L405.5 408 L405.9 411 L406.3 413.9 L406.6 416.9 L407 419.9 L407.4 422.9 L407.8 425.8 L408.2 428.8 L408.6 431.8 L409 434.7 L409.3 437.7 L409.7 440.7 L410.1 443.7 L410.5 446.6 L410.9 449.6 L411.3 452.6 L411.7 455.6 L412.1 458.5 L412.5 461.5 L412.9 464.5 L413.3 467.4 L413.7 470.4 L414.1 473.4 L414.5 476.3 L414.9 479.3 L415.3 482.3 L415.7 485.2 L416.1 488.2 L416.5 491.2 L416.9 494.2 L417.3 497.1 L417.7 500.1 L418.1 503 L418.6 506 L419 509 L419.4 511.9 L419.8 514.9 L420.2 517.9 L420.7 520.8 L421.1 523.8 L421.5 526.8 L421.9 529.7 L422.4 532.7 L422.8 535.6 L423.2 538.6 L423.6 541.6 L424.1 544.5 L424.5 547.5 L425 550.4 L425.4 553.4 L425.8 556.3 L426.3 559.3 L426.7 562.2 L427.2 565.2 L427.6 568.1 L428.1 571.1 L428.5 574 L429 577 L429.4 579.9 L429.9 582.9 L430.4 585.8 L430.9 588.8 L431.3 591.7 L431.8 594.7 L432.3 597.6 L432.9 600.6 L433.4 603.5 L433.9 606.4 L434.5 609.4 L435.1 612.3 L435.7 615.3 L436.3 618.2 L436.9 621.1 L437.6 624.1 L438.2 627 L438.9 629.9 L439.7 632.9 L440.4 635.8 L441.2 638.7 L442 641.6 L442.8 644.6 L443.7 647.5 L444.6 650.4 L445.5 653.4 L446.5 656.3 L448.3 666.3 L449.7 668.9 L451.1 671.6 L452.4 674.2 L453.7 676.9 L455 679.7 L456.2 682.4 L457.5 685.2 L458.7 687.9 L460 690.7 L461.2 693.4 L462.6 696.1 L463.9 698.8 L465.3 701.5 L466.8 704.2 L468.4 706.8 L470 709.4 L471.8 711.9 L473.6 714.3 L475.6 716.5 L477.7 718.5 L480 720.3 L482.5 721.7 L485.1 722.9 L488 723.6 L490.5 724.8" stroke="#DAA520"/>
<path d="M131.9 41.3 L133.4 44 L134.9 46.7 L136.3 49.4 L137.7 52.1 L139.2 54.8 L140.6 57.5 L141.9 60.3 L143.3 63 L144.6 65.8 L145.9 68.5 L147.2 71.3 L148.4 74 L149.6 76.8 L150.8 79.6 L151.9 82.4 L153 85.2 L154.1 88 L155.1 90.8 L156.1 93.6 L157 96.4 L157.9 99.2 L158.8 102 L159.6 104.8 L160.4 107.7 L161.2 110.5 L162 113.3 L162.7 116.2 L163.4 119 L164.1 121.9 L164.8 124.7 L165.5 127.6 L166.2 130.5 L166.9 133.3 L167.6 136.2 L168.3 139.1 L169 142 L169.7 144.9 L170.4 147.8 L171.1 150.7 L171.8 153.5 L172.5 156.5 L173.1 159.4 L173.8 162.3 L174.4 165.2 L175.1 168.1 L175.7 171 L176.3 173.9 L176.9 176.9 L177.5 179.8 L178 182.7 L178.6 185.7 L179.2 188.6 L179.7 191.5 L180.3 194.5 L180.8 197.4 L181.4 200.4 L181.9 203.3 L182.5 206.3 L183 209.2 L183.6 212.2 L184.1 215.1 L184.6 218.1 L185.2 221 L185.7 224 L186.3 227 L186.8 229.9 L187.3 232.9 L187.9 235.8 L188.4 238.8 L188.9 241.8 L189.4 244.8 L190 247.7 L190.5 250.7 L191 253.7 L191.6 256.6 L192.1 259.6 L192.6 262.6 L193.1 265.6 L193.7 268.5 L194.2 271.5 L194.7 274.5 L195.2 277.5 L195.7 280.4 L196.3 283.4 L196.8 286.4 L197.3 289.4 L197.8 292.3 L198.3 295.3 L198.9 298.3 L199.4 301.3 L199.9 304.2 L200.4 307.2 L200.9 310.2 L201.4 313.1 L202 316.1 L202.5 319.1 L203 322 L203.5 325 L204 328 L204.6 330.9 L205.1 333.9 L205.6 336.9 L206.1 339.8 L206.6 342.8 L207.2 345.8 L207.7 348.7 L208.2 351.7 L208.7 354.6 L209.3 357.6 L209.8 360.6 L210.3 363.5 L210.8 366.5 L211.4 369.4 L211.9 372.4 L212.4 375.4 L213 378.3 L213.5 381.3 L214 384.2 L214.6 387.2 L215.1 390.1 L215.6 393.1 L216.2 396 L216.7 399 L217.3 401.9 L217.8 404.9 L218.4 407.8 L218.9 410.8 L219.5 413.7 L220 416.7 L220.6 419.6 L221.1 422.6 L221.7 425.5 L222.2 428.5 L222.8 431.4 L223.4 434.4 L223.9 437.3 L224.5 440.3 L225.1 443.2 L225.7 446.1 L226.2 449.1 L226.8 452 L227.4 455 L228 457.9 L228.6 460.8 L229.2 463.8 L229.7 466.7 L230.3 469.7 L230.9 472.6 L231.5 475.5 L232.1 478.5 L232.8 481.4 L233.4 484.3 L234 487.3 L234.6 490.2 L235.2 493.1 L235.8 496.1 L236.5 499 L237.1 501.9 L237.7 504.9 L238.4 507.8 L239 510.7 L239.7 513.7 L240.3 516.6 L241 519.5 L241.6 522.5 L242.3 525.4 L242.9 528.3 L243.6 531.2 L244.3 534.2 L245 537.1 L245.6 540 L246.3 542.9 L247 545.9 L247.7 548.8 L248.4 551.7 L249.1 554.6 L249.8 557.6 L250.5 560.5 L251.2 563.4 L252 566.3 L252.7 569.3 L253.4 572.2 L254.1 575.1 L254.9 578 L255.6 580.9 L256.3 583.8 L257.1 586.8 L257.8 589.7 L258.6 592.6 L259.3 595.5 L260.1 598.4 L260.8 601.3 L261.6 604.2 L262.3 607.1 L263.1 610 L263.9 612.9 L264.6 615.8 L265.4 618.7 L266.2 621.6 L266.9 624.5 L267.7 627.4 L268.5 630.3 L269.2 633.2 L270 636.1 L270.8 639 L271.5 641.8 L272.3 644.7 L273.1 647.6 L273.8 650.5 L274.6 653.4 L275.4 656.2 L276.1 659.1 L276.9 662 L277.7 664.8 L278.4 667.7 L279.2 670.5 L280 673.4 L280.8 676.2 L281.6 679.1 L282.4 681.9 L283.3 684.8 L284.2 687.6 L285.1 690.4 L286 693.3 L287 696.1 L288 698.9 L289 701.7 L290.1 704.5 L291.2 707.4 L292.4 710.2 L293.6 713 L294.8 715.8 L296.2 718.6 L297.5 721.4 L298.9 724.1 L301.4 724.8 L746.8 724.8" stroke="#000080"/>
</g>
<path d="M95.5 710.05 L93.38 710.74 L91.97 712.8 L91.27 716.24 L91.27 718.31 L91.97 721.75 L93.38 723.81 L95.5 724.5 L96.91 724.5 L99.02 723.81 L100.43 721.75 L101.14 718.31 L101.14 716.24 L100.43 712.8 L99.02 710.74 L96.91 710.05 L95.5 710.05M106.78 723.12 L106.07 723.81 L106.78 724.5 L107.48 723.81 L106.78 723.12M116.64 710.05 L114.53 710.74 L113.12 712.8 L112.41 716.24 L112.41 718.31 L113.12 721.75 L114.53 723.81 L116.64 724.5 L118.05 724.5 L120.17 723.81 L121.58 721.75 L122.28 718.31 L122.28 716.24 L121.58 712.8 L120.17 710.74 L118.05 710.05 L116.64 710.05M95.5 582.05 L93.38 582.74 L91.97 584.8 L91.27 588.24 L91.27 590.31 L91.97 593.75 L93.38 595.81 L95.5 596.5 L96.91 596.5 L99.02 595.81 L100.43 593.75 L101.14 590.31 L101.14 588.24 L100.43 584.8 L99.02 582.74 L96.91 582.05 L95.5 582.05M106.78 595.12 L106.07 595.81 L106.78 596.5 L107.48 595.81 L106.78 595.12M113.12 585.49 L113.12 584.8 L113.83 583.43 L114.53 582.74 L115.94 582.05 L118.76 582.05 L120.17 582.74 L120.88 583.43 L121.58 584.8 L121.58 586.18 L120.88 587.56 L119.47 589.62 L112.41 596.5 L122.28 596.5M95.5 445.35 L93.38 446.04 L91.97 448.1 L91.27 451.54 L91.27 453.61 L91.97 457.05 L93.38 459.11 L95.5 459.8 L96.91 459.8 L99.02 459.11 L100.43 457.05 L101.14 453.61 L101.14 451.54 L100.43 448.1 L99.02 446.04 L96.91 445.35 L95.5 445.35M106.78 458.42 L106.07 459.11 L106.78 459.8 L107.48 459.11 L106.78 458.42M119.47 445.35 L112.41 454.98 L122.99 454.98M119.47 445.35 L119.47 459.8M95.5 308.65 L93.38 309.34 L91.97 311.4 L91.27 314.84 L91.27 316.91 L91.97 320.35 L93.38 322.41 L95.5 323.1 L96.91 323.1 L99.02 322.41 L100.43 320.35 L101.14 316.91 L101.14 314.84 L100.43 311.4 L99.02 309.34 L96.91 308.65 L95.5 308.65M106.78 321.72 L106.07 322.41 L106.78 323.1 L107.48 322.41 L106.78 321.72M121.58 310.72 L120.88 309.34 L118.76 308.65 L117.35 308.65 L115.23 309.34 L113.83 311.4 L113.12 314.84 L113.12 318.28 L113.83 321.04 L115.23 322.41 L117.35 323.1 L118.05 323.1 L120.17 322.41 L121.58 321.04 L122.28 318.97 L122.28 318.28 L121.58 316.22 L120.17 314.84 L118.05 314.16 L117.35 314.16 L115.23 314.84 L113.83 316.22 L113.12 318.28M95.5 171.95 L93.38 172.64 L91.97 174.7 L91.27 178.14 L91.27 180.21 L91.97 183.65 L93.38 185.71 L95.5 186.4 L96.91 186.4 L99.02 185.71 L100.43 183.65 L101.14 180.21 L101.14 178.14 L100.43 174.7 L99.02 172.64 L96.91 171.95 L95.5 171.95M106.78 185.02 L106.07 185.71 L106.78 186.4 L107.48 185.71 L106.78 185.02M115.94 171.95 L113.83 172.64 L113.12 174.02 L113.12 175.39 L113.83 176.77 L115.23 177.46 L118.05 178.14 L120.17 178.83 L121.58 180.21 L122.28 181.58 L122.28 183.65 L121.58 185.02 L120.88 185.71 L118.76 186.4 L115.94 186.4 L113.83 185.71 L113.12 185.02 L112.41 183.65 L112.41 181.58 L113.12 180.21 L114.53 178.83 L116.64 178.14 L119.47 177.46 L120.88 176.77 L121.58 175.39 L121.58 174.02 L120.88 172.64 L118.76 171.95 L115.94 171.95M94.18 44.2 L95.59 43.52 L97.7 41.45 L97.7 55.9M107.58 54.52 L106.87 55.21 L107.58 55.9 L108.28 55.21 L107.58 54.52M117.44 41.45 L115.33 42.14 L113.92 44.2 L113.21 47.64 L113.21 49.71 L113.92 53.15 L115.33 55.21 L117.44 55.9 L118.85 55.9 L120.97 55.21 L122.38 53.15 L123.08 49.71 L123.08 47.64 L122.38 44.2 L120.97 42.14 L118.85 41.45 L117.44 41.45M118.17 750.45 L130.23 750.45M136.26 742.11 L143.63 742.11 L139.61 747.67 L141.62 747.67 L142.96 748.36 L143.63 749.06 L144.3 751.14 L144.3 752.53 L143.63 754.62 L142.29 756 L140.28 756.7 L138.27 756.7 L136.26 756 L135.59 755.31 L134.92 753.92M242.45 750.45 L254.51 750.45M259.87 745.58 L259.87 744.88 L260.54 743.5 L261.21 742.8 L262.55 742.11 L265.23 742.11 L266.57 742.8 L267.24 743.5 L267.91 744.88 L267.91 746.28 L267.24 747.67 L265.9 749.75 L259.2 756.7 L268.58 756.7M366.74 750.45 L378.8 750.45M385.5 744.88 L386.84 744.19 L388.85 742.11 L388.85 756.7M503.58 742.11 L501.57 742.8 L500.23 744.88 L499.56 748.36 L499.56 750.45 L500.23 753.92 L501.57 756 L503.58 756.7 L504.92 756.7 L506.93 756 L508.27 753.92 L508.94 750.45 L508.94 748.36 L508.27 744.88 L506.93 742.8 L504.92 742.11 L503.58 742.11M625.85 744.88 L627.19 744.19 L629.2 742.11 L629.2 756.7M748.8 745.58 L748.8 744.88 L749.47 743.5 L750.14 742.8 L751.48 742.11 L754.16 742.11 L755.5 742.8 L756.17 743.5 L756.84 744.88 L756.84 746.28 L756.17 747.67 L754.83 749.75 L748.13 756.7 L757.51 756.7M873.75 742.11 L881.12 742.11 L877.1 747.67 L879.11 747.67 L880.45 748.36 L881.12 749.06 L881.79 751.14 L881.79 752.53 L881.12 754.62 L879.78 756 L877.77 756.7 L875.76 756.7 L873.75 756 L873.08 755.31 L872.41 753.92M388.9 769.16 L388.9 783.65M397.3 773.99 L395.9 774.68 L394.5 776.06 L393.8 778.13 L393.8 779.51 L394.5 781.58 L395.9 782.96 L397.3 783.65 L399.4 783.65 L400.8 782.96 L402.2 781.58 L402.9 779.51 L402.9 778.13 L402.2 776.06 L400.8 774.68 L399.4 773.99 L397.3 773.99M415.5 773.99 L415.5 785.03 L414.8 787.1 L414.1 787.79 L412.7 788.48 L410.6 788.48 L409.2 787.79M415.5 776.06 L414.1 774.68 L412.7 773.99 L410.6 773.99 L409.2 774.68 L407.8 776.06 L407.1 778.13 L407.1 779.51 L407.8 781.58 L409.2 782.96 L410.6 783.65 L412.7 783.65 L414.1 782.96 L415.5 781.58M451.84 781.3 L450.97 780.44 L449.67 780.02 L447.93 780.02 L446.63 780.44 L445.76 781.3 L445.76 782.16 L446.2 783.01 L446.63 783.44 L447.5 783.87 L450.1 784.72 L450.97 785.15 L451.4 785.58 L451.84 786.43 L451.84 787.72 L450.97 788.57 L449.67 789 L447.93 789 L446.63 788.57 L445.76 787.72M454.88 780.02 L454.88 789M454.88 780.02 L460.52 780.02M454.88 784.29 L458.35 784.29M462.69 780.02 L462.69 789M462.69 780.02 L466.59 780.02 L467.9 780.44 L468.33 780.87 L468.76 781.73 L468.76 782.58 L468.33 783.44 L467.9 783.87 L466.59 784.29 L462.69 784.29M465.73 784.29 L468.76 789M487.77 766.4 L486.37 767.78 L484.97 769.85 L483.57 772.61 L482.87 776.06 L482.87 778.82 L483.57 782.27 L484.97 785.03 L486.37 787.1 L487.77 788.48M493.23 769.16 L493.23 783.65M493.23 769.16 L499.95 783.65M506.67 769.16 L499.95 783.65M506.67 769.16 L506.67 783.65M512.5 783.01 L511.63 783.44 L510.76 784.29 L510.33 785.58 L510.33 786.43 L510.76 787.72 L511.63 788.57 L512.5 789 L513.8 789 L514.67 788.57 L515.54 787.72 L515.97 786.43 L515.97 785.58 L515.54 784.29 L514.67 783.44 L513.8 783.01 L512.5 783.01M518.67 773.99 L522.87 783.65M527.07 773.99 L522.87 783.65 L521.47 786.41 L520.07 787.79 L518.67 788.48 L517.97 788.48M531.27 773.99 L531.27 783.65M531.27 778.13 L531.97 776.06 L533.37 774.68 L534.77 773.99 L536.87 773.99M539.08 769.25 L545.89 769.25M549.67 766.27 L550.42 765.89 L551.56 764.78 L551.56 772.6M557.76 769.16 L557.76 783.65M564.76 773.99 L557.76 780.89M560.56 778.13 L565.46 783.65M569.66 773.99 L569.66 788.48M569.66 776.06 L571.06 774.68 L572.46 773.99 L574.56 773.99 L575.96 774.68 L577.36 776.06 L578.06 778.13 L578.06 779.51 L577.36 781.58 L575.96 782.96 L574.56 783.65 L572.46 783.65 L571.06 782.96 L569.66 781.58M590.66 776.06 L589.26 774.68 L587.86 773.99 L585.76 773.99 L584.36 774.68 L582.96 776.06 L582.26 778.13 L582.26 779.51 L582.96 781.58 L584.36 782.96 L585.76 783.65 L587.86 783.65 L589.26 782.96 L590.66 781.58M594.27 769.25 L601.08 769.25M604.1 766.64 L604.1 766.27 L604.48 765.52 L604.86 765.15 L605.61 764.78 L607.12 764.78 L607.88 765.15 L608.26 765.52 L608.64 766.27 L608.64 767.01 L608.26 767.76 L607.5 768.87 L603.72 772.6 L609.01 772.6M613.85 766.4 L615.25 767.78 L616.65 769.85 L618.05 772.61 L618.75 776.06 L618.75 778.82 L618.05 782.27 L616.65 785.03 L615.25 787.1 L613.85 788.48" fill="none" stroke="#000" stroke-width="1.9" stroke-linecap="round" stroke-linejoin="round"/>
<path d="M431.54 769.16 L436.93 776.06 L431.54 783.65M431.54 769.16 L442.32 769.16M431.54 783.65 L442.32 783.65" fill="none" stroke="#000" stroke-width="2.6" stroke-linecap="round" stroke-linejoin="round"/>
<path d="M7.05 -13.23 L5.64 -13.23 L4.23 -12.6 L3.52 -10.71 L3.52 0M1.41 -8.82 L6.34 -8.82M16.21 -15.75 L14.8 -14.49 L13.39 -12.6 L11.98 -10.08 L11.28 -6.93 L11.28 -4.41 L11.98 -1.26 L13.39 1.26 L14.8 3.15 L16.21 4.41M30.31 -11.34 L28.9 -12.6 L26.79 -13.23 L23.97 -13.23 L21.85 -12.6 L20.44 -11.34 L20.44 -10.08 L21.15 -8.82 L21.85 -8.19 L23.26 -7.56 L27.49 -6.3 L28.9 -5.67 L29.61 -5.04 L30.31 -3.78 L30.31 -1.89 L28.9 -0.63 L26.79 0 L23.97 0 L21.85 -0.63 L20.44 -1.89M33.55 -13.23 L33.55 0M33.55 -13.23 L42.72 -13.23M33.55 -6.93 L39.19 -6.93M56.72 -11.34 L68 -5.67 L56.72 0M104.25 0.1 L103.4 -0.66 L102.14 -1.04 L100.44 -1.04 L99.17 -0.66 L98.33 0.1 L98.33 0.85 L98.75 1.61 L99.17 1.99 L100.02 2.36 L102.56 3.12 L103.4 3.5 L103.83 3.88 L104.25 4.63 L104.25 5.77 L103.4 6.52 L102.14 6.9 L100.44 6.9 L99.17 6.52 L98.33 5.77M107.21 -1.04 L107.21 6.9M107.21 -1.04 L112.71 -1.04M107.21 2.74 L110.59 2.74M114.83 -1.04 L114.83 6.9M114.83 -1.04 L118.63 -1.04 L119.9 -0.66 L120.32 -0.28 L120.75 0.47 L120.75 1.23 L120.32 1.99 L119.9 2.36 L118.63 2.74 L114.83 2.74M117.79 2.74 L120.75 6.9M124.13 -15.75 L125.54 -14.49 L126.95 -12.6 L128.36 -10.08 L129.07 -6.93 L129.07 -4.41 L128.36 -1.26 L126.95 1.26 L125.54 3.15 L124.13 4.41" fill="none" stroke="#000" stroke-width="1.9" stroke-linecap="round" stroke-linejoin="round" transform="translate(69.05 449.4) rotate(-90)"/>
<path d="M83.65 -13.23 L89.08 -6.93 L83.65 0M83.65 -13.23 L94.51 -13.23M83.65 0 L94.51 0" fill="none" stroke="#000" stroke-width="2.6" stroke-linecap="round" stroke-linejoin="round" transform="translate(69.05 449.4) rotate(-90)"/>
<path d="M671.89 74.21 L666.84 86.6M671.89 74.21 L676.95 86.6M668.73 82.47 L675.05 82.47M687.69 75.98 L687.06 74.8 L685.16 74.21 L683.9 74.21 L682 74.8 L680.74 76.57 L680.11 79.52 L680.11 82.47 L680.74 84.83 L682 86.01 L683.9 86.6 L684.53 86.6 L686.43 86.01 L687.69 84.83 L688.32 83.06 L688.32 82.47 L687.69 80.7 L686.43 79.52 L684.53 78.93 L683.9 78.93 L682 79.52 L680.74 80.7 L680.11 82.47M694.01 76.57 L695.28 75.98 L697.17 74.21 L697.17 86.6M706.65 76.57 L707.92 75.98 L709.81 74.21 L709.81 86.6M735.3 78.34 L728.35 86.6M728.35 78.34 L735.3 78.34M728.35 86.6 L735.3 86.6M739.72 79.52 L751.1 79.52M739.72 83.06 L751.1 83.06M759.31 74.21 L757.42 74.8 L756.15 76.57 L755.52 79.52 L755.52 81.29 L756.15 84.24 L757.42 86.01 L759.31 86.6 L760.58 86.6 L762.47 86.01 L763.74 84.24 L764.37 81.29 L764.37 79.52 L763.74 76.57 L762.47 74.8 L760.58 74.21 L759.31 74.21M769.43 85.42 L768.79 86.01 L769.43 86.6 L770.06 86.01 L769.43 85.42M782.7 78.34 L782.07 80.11 L780.8 81.29 L778.91 81.88 L778.27 81.88 L776.38 81.29 L775.11 80.11 L774.48 78.34 L774.48 77.75 L775.11 75.98 L776.38 74.8 L778.27 74.21 L778.91 74.21 L780.8 74.8 L782.07 75.98 L782.7 78.34 L782.7 81.29 L782.07 84.24 L780.8 86.01 L778.91 86.6 L777.64 86.6 L775.75 86.01 L775.11 84.83M789.02 76.57 L790.28 75.98 L792.18 74.21 L792.18 86.6M659.25 97.21 L654.2 109.6M659.25 97.21 L664.31 109.6M656.09 105.47 L662.41 105.47M667.47 100.16 L667.47 99.57 L668.1 98.39 L668.73 97.8 L670 97.21 L672.52 97.21 L673.79 97.8 L674.42 98.39 L675.05 99.57 L675.05 100.75 L674.42 101.93 L673.16 103.7 L666.84 109.6 L675.68 109.6M680.74 97.21 L687.69 97.21 L683.9 101.93 L685.8 101.93 L687.06 102.52 L687.69 103.11 L688.32 104.88 L688.32 106.06 L687.69 107.83 L686.43 109.01 L684.53 109.6 L682.64 109.6 L680.74 109.01 L680.11 108.42 L679.48 107.24M700.33 101.34 L699.7 103.11 L698.44 104.29 L696.54 104.88 L695.91 104.88 L694.01 104.29 L692.75 103.11 L692.12 101.34 L692.12 100.75 L692.75 98.98 L694.01 97.8 L695.91 97.21 L696.54 97.21 L698.44 97.8 L699.7 98.98 L700.33 101.34 L700.33 104.29 L699.7 107.24 L698.44 109.01 L696.54 109.6 L695.28 109.6 L693.38 109.01 L692.75 107.83M708.55 97.21 L706.65 97.8 L705.39 99.57 L704.76 102.52 L704.76 104.29 L705.39 107.24 L706.65 109.01 L708.55 109.6 L709.81 109.6 L711.71 109.01 L712.97 107.24 L713.6 104.29 L713.6 102.52 L712.97 99.57 L711.71 97.8 L709.81 97.21 L708.55 97.21M735.3 101.34 L728.35 109.6M728.35 101.34 L735.3 101.34M728.35 109.6 L735.3 109.6M739.72 102.52 L751.1 102.52M739.72 106.06 L751.1 106.06M759.31 97.21 L757.42 97.8 L756.15 99.57 L755.52 102.52 L755.52 104.29 L756.15 107.24 L757.42 109.01 L759.31 109.6 L760.58 109.6 L762.47 109.01 L763.74 107.24 L764.37 104.29 L764.37 102.52 L763.74 99.57 L762.47 97.8 L760.58 97.21 L759.31 97.21M769.43 108.42 L768.79 109.01 L769.43 109.6 L770.06 109.01 L769.43 108.42M782.7 101.34 L782.07 103.11 L780.8 104.29 L778.91 104.88 L778.27 104.88 L776.38 104.29 L775.11 103.11 L774.48 101.34 L774.48 100.75 L775.11 98.98 L776.38 97.8 L778.27 97.21 L778.91 97.21 L780.8 97.8 L782.07 98.98 L782.7 101.34 L782.7 104.29 L782.07 107.24 L780.8 109.01 L778.91 109.6 L777.64 109.6 L775.75 109.01 L775.11 107.83M789.02 99.57 L790.28 98.98 L792.18 97.21 L792.18 109.6M671.89 120.21 L666.84 132.6M671.89 120.21 L676.95 132.6M668.73 128.47 L675.05 128.47M688.32 120.21 L682 132.6M679.48 120.21 L688.32 120.21M700.96 120.21 L694.64 132.6M692.12 120.21 L700.96 120.21M706.02 120.21 L712.97 120.21 L709.18 124.93 L711.08 124.93 L712.34 125.52 L712.97 126.11 L713.6 127.88 L713.6 129.06 L712.97 130.83 L711.71 132.01 L709.81 132.6 L707.92 132.6 L706.02 132.01 L705.39 131.42 L704.76 130.24M735.3 124.34 L728.35 132.6M728.35 124.34 L735.3 124.34M728.35 132.6 L735.3 132.6M739.72 125.52 L751.1 125.52M739.72 129.06 L751.1 129.06M757.42 122.57 L758.68 121.98 L760.58 120.21 L760.58 132.6M769.43 131.42 L768.79 132.01 L769.43 132.6 L770.06 132.01 L769.43 131.42M778.27 120.21 L776.38 120.8 L775.11 122.57 L774.48 125.52 L774.48 127.29 L775.11 130.24 L776.38 132.01 L778.27 132.6 L779.54 132.6 L781.43 132.01 L782.7 130.24 L783.33 127.29 L783.33 125.52 L782.7 122.57 L781.43 120.8 L779.54 120.21 L778.27 120.21M789.02 122.57 L790.28 121.98 L792.18 120.21 L792.18 132.6M652.3 143.21 L652.3 155.6M652.3 143.21 L657.36 155.6M662.41 143.21 L657.36 155.6M662.41 143.21 L662.41 155.6M670.63 143.21 L668.73 143.8 L667.47 145.57 L666.84 148.52 L666.84 150.29 L667.47 153.24 L668.73 155.01 L670.63 155.6 L671.89 155.6 L673.79 155.01 L675.05 153.24 L675.68 150.29 L675.68 148.52 L675.05 145.57 L673.79 143.8 L671.89 143.21 L670.63 143.21M687.69 147.34 L687.06 149.11 L685.8 150.29 L683.9 150.88 L683.27 150.88 L681.37 150.29 L680.11 149.11 L679.48 147.34 L679.48 146.75 L680.11 144.98 L681.37 143.8 L683.27 143.21 L683.9 143.21 L685.8 143.8 L687.06 144.98 L687.69 147.34 L687.69 150.29 L687.06 153.24 L685.8 155.01 L683.9 155.6 L682.64 155.6 L680.74 155.01 L680.11 153.83M698.44 143.21 L692.12 151.47 L701.6 151.47M698.44 143.21 L698.44 155.6M713.6 143.21 L707.28 155.6M704.76 143.21 L713.6 143.21M735.3 147.34 L728.35 155.6M728.35 147.34 L735.3 147.34M728.35 155.6 L735.3 155.6M739.72 148.52 L751.1 148.52M739.72 152.06 L751.1 152.06M757.42 145.57 L758.68 144.98 L760.58 143.21 L760.58 155.6M769.43 154.42 L768.79 155.01 L769.43 155.6 L770.06 155.01 L769.43 154.42M778.27 143.21 L776.38 143.8 L775.11 145.57 L774.48 148.52 L774.48 150.29 L775.11 153.24 L776.38 155.01 L778.27 155.6 L779.54 155.6 L781.43 155.01 L782.7 153.24 L783.33 150.29 L783.33 148.52 L782.7 145.57 L781.43 143.8 L779.54 143.21 L778.27 143.21M789.02 145.57 L790.28 144.98 L792.18 143.21 L792.18 155.6M684.53 166.21 L679.48 178.6M684.53 166.21 L689.59 178.6M681.37 174.47 L687.69 174.47M700.33 167.98 L699.7 166.8 L697.8 166.21 L696.54 166.21 L694.64 166.8 L693.38 168.57 L692.75 171.52 L692.75 174.47 L693.38 176.83 L694.64 178.01 L696.54 178.6 L697.17 178.6 L699.07 178.01 L700.33 176.83 L700.96 175.06 L700.96 174.47 L700.33 172.7 L699.07 171.52 L697.17 170.93 L696.54 170.93 L694.64 171.52 L693.38 172.7 L692.75 174.47M707.92 166.21 L706.02 166.8 L705.39 167.98 L705.39 169.16 L706.02 170.34 L707.28 170.93 L709.81 171.52 L711.71 172.11 L712.97 173.29 L713.6 174.47 L713.6 176.24 L712.97 177.42 L712.34 178.01 L710.44 178.6 L707.92 178.6 L706.02 178.01 L705.39 177.42 L704.76 176.24 L704.76 174.47 L705.39 173.29 L706.65 172.11 L708.55 171.52 L711.08 170.93 L712.34 170.34 L712.97 169.16 L712.97 167.98 L712.34 166.8 L710.44 166.21 L707.92 166.21M735.3 170.34 L728.35 178.6M728.35 170.34 L735.3 170.34M728.35 178.6 L735.3 178.6M739.72 171.52 L751.1 171.52M739.72 175.06 L751.1 175.06M757.42 168.57 L758.68 167.98 L760.58 166.21 L760.58 178.6M769.43 177.42 L768.79 178.01 L769.43 178.6 L770.06 178.01 L769.43 177.42M778.27 166.21 L776.38 166.8 L775.11 168.57 L774.48 171.52 L774.48 173.29 L775.11 176.24 L776.38 178.01 L778.27 178.6 L779.54 178.6 L781.43 178.01 L782.7 176.24 L783.33 173.29 L783.33 171.52 L782.7 168.57 L781.43 166.8 L779.54 166.21 L778.27 166.21M787.75 169.16 L787.75 168.57 L788.39 167.39 L789.02 166.8 L790.28 166.21 L792.81 166.21 L794.07 166.8 L794.71 167.39 L795.34 168.57 L795.34 169.75 L794.71 170.93 L793.44 172.7 L787.12 178.6 L795.97 178.6M652.3 189.21 L652.3 201.6M652.3 189.21 L657.36 201.6M662.41 189.21 L657.36 201.6M662.41 189.21 L662.41 201.6M670.63 189.21 L668.73 189.8 L667.47 191.57 L666.84 194.52 L666.84 196.29 L667.47 199.24 L668.73 201.01 L670.63 201.6 L671.89 201.6 L673.79 201.01 L675.05 199.24 L675.68 196.29 L675.68 194.52 L675.05 191.57 L673.79 189.8 L671.89 189.21 L670.63 189.21M681.37 191.57 L682.64 190.98 L684.53 189.21 L684.53 201.6M699.7 189.21 L693.38 189.21 L692.75 194.52 L693.38 193.93 L695.28 193.34 L697.17 193.34 L699.07 193.93 L700.33 195.11 L700.96 196.88 L700.96 198.06 L700.33 199.83 L699.07 201.01 L697.17 201.6 L695.28 201.6 L693.38 201.01 L692.75 200.42 L692.12 199.24M712.97 193.34 L712.34 195.11 L711.08 196.29 L709.18 196.88 L708.55 196.88 L706.65 196.29 L705.39 195.11 L704.76 193.34 L704.76 192.75 L705.39 190.98 L706.65 189.8 L708.55 189.21 L709.18 189.21 L711.08 189.8 L712.34 190.98 L712.97 193.34 L712.97 196.29 L712.34 199.24 L711.08 201.01 L709.18 201.6 L707.92 201.6 L706.02 201.01 L705.39 199.83M735.3 193.34 L728.35 201.6M728.35 193.34 L735.3 193.34M728.35 201.6 L735.3 201.6M739.72 194.52 L751.1 194.52M739.72 198.06 L751.1 198.06M757.42 191.57 L758.68 190.98 L760.58 189.21 L760.58 201.6M769.43 200.42 L768.79 201.01 L769.43 201.6 L770.06 201.01 L769.43 200.42M780.8 189.21 L774.48 197.47 L783.96 197.47M780.8 189.21 L780.8 201.6M795.34 193.34 L794.71 195.11 L793.44 196.29 L791.55 196.88 L790.91 196.88 L789.02 196.29 L787.75 195.11 L787.12 193.34 L787.12 192.75 L787.75 190.98 L789.02 189.8 L790.91 189.21 L791.55 189.21 L793.44 189.8 L794.71 190.98 L795.34 193.34 L795.34 196.29 L794.71 199.24 L793.44 201.01 L791.55 201.6 L790.28 201.6 L788.39 201.01 L787.75 199.83M652.3 212.21 L652.3 224.6M652.3 212.21 L657.36 224.6M662.41 212.21 L657.36 224.6M662.41 212.21 L662.41 224.6M668.73 214.57 L670 213.98 L671.89 212.21 L671.89 224.6M681.37 214.57 L682.64 213.98 L684.53 212.21 L684.53 224.6M698.44 212.21 L692.12 220.47 L701.6 220.47M698.44 212.21 L698.44 224.6M712.97 216.34 L712.34 218.11 L711.08 219.29 L709.18 219.88 L708.55 219.88 L706.65 219.29 L705.39 218.11 L704.76 216.34 L704.76 215.75 L705.39 213.98 L706.65 212.8 L708.55 212.21 L709.18 212.21 L711.08 212.8 L712.34 213.98 L712.97 216.34 L712.97 219.29 L712.34 222.24 L711.08 224.01 L709.18 224.6 L707.92 224.6 L706.02 224.01 L705.39 222.83M735.3 216.34 L728.35 224.6M728.35 216.34 L735.3 216.34M728.35 224.6 L735.3 224.6M739.72 217.52 L751.1 217.52M739.72 221.06 L751.1 221.06M757.42 214.57 L758.68 213.98 L760.58 212.21 L760.58 224.6M769.43 223.42 L768.79 224.01 L769.43 224.6 L770.06 224.01 L769.43 223.42M780.8 212.21 L774.48 220.47 L783.96 220.47M780.8 212.21 L780.8 224.6M795.34 216.34 L794.71 218.11 L793.44 219.29 L791.55 219.88 L790.91 219.88 L789.02 219.29 L787.75 218.11 L787.12 216.34 L787.12 215.75 L787.75 213.98 L789.02 212.8 L790.91 212.21 L791.55 212.21 L793.44 212.8 L794.71 213.98 L795.34 216.34 L795.34 219.29 L794.71 222.24 L793.44 224.01 L791.55 224.6 L790.28 224.6 L788.39 224.01 L787.75 222.83M652.3 235.21 L652.3 247.6M652.3 235.21 L657.36 247.6M662.41 235.21 L657.36 247.6M662.41 235.21 L662.41 247.6M668.73 237.57 L670 236.98 L671.89 235.21 L671.89 247.6M681.37 237.57 L682.64 236.98 L684.53 235.21 L684.53 247.6M693.38 235.21 L700.33 235.21 L696.54 239.93 L698.44 239.93 L699.7 240.52 L700.33 241.11 L700.96 242.88 L700.96 244.06 L700.33 245.83 L699.07 247.01 L697.17 247.6 L695.28 247.6 L693.38 247.01 L692.75 246.42 L692.12 245.24M706.02 235.21 L712.97 235.21 L709.18 239.93 L711.08 239.93 L712.34 240.52 L712.97 241.11 L713.6 242.88 L713.6 244.06 L712.97 245.83 L711.71 247.01 L709.81 247.6 L707.92 247.6 L706.02 247.01 L705.39 246.42 L704.76 245.24M735.3 239.34 L728.35 247.6M728.35 239.34 L735.3 239.34M728.35 247.6 L735.3 247.6M739.72 240.52 L751.1 240.52M739.72 244.06 L751.1 244.06M757.42 237.57 L758.68 236.98 L760.58 235.21 L760.58 247.6M769.43 246.42 L768.79 247.01 L769.43 247.6 L770.06 247.01 L769.43 246.42M782.07 235.21 L775.75 235.21 L775.11 240.52 L775.75 239.93 L777.64 239.34 L779.54 239.34 L781.43 239.93 L782.7 241.11 L783.33 242.88 L783.33 244.06 L782.7 245.83 L781.43 247.01 L779.54 247.6 L777.64 247.6 L775.75 247.01 L775.11 246.42 L774.48 245.24M794.71 235.21 L788.39 235.21 L787.75 240.52 L788.39 239.93 L790.28 239.34 L792.18 239.34 L794.07 239.93 L795.34 241.11 L795.97 242.88 L795.97 244.06 L795.34 245.83 L794.07 247.01 L792.18 247.6 L790.28 247.6 L788.39 247.01 L787.75 246.42 L787.12 245.24M657.99 261.16 L657.36 259.98 L656.09 258.8 L654.83 258.21 L652.3 258.21 L651.04 258.8 L649.77 259.98 L649.14 261.16 L648.51 262.93 L648.51 265.88 L649.14 267.65 L649.77 268.83 L651.04 270.01 L652.3 270.6 L654.83 270.6 L656.09 270.01 L657.36 268.83 L657.99 267.65M662.41 258.21 L662.41 270.6M670.63 258.21 L668.73 258.8 L667.47 260.57 L666.84 263.52 L666.84 265.29 L667.47 268.24 L668.73 270.01 L670.63 270.6 L671.89 270.6 L673.79 270.01 L675.05 268.24 L675.68 265.29 L675.68 263.52 L675.05 260.57 L673.79 258.8 L671.89 258.21 L670.63 258.21M683.27 258.21 L681.37 258.8 L680.11 260.57 L679.48 263.52 L679.48 265.29 L680.11 268.24 L681.37 270.01 L683.27 270.6 L684.53 270.6 L686.43 270.01 L687.69 268.24 L688.32 265.29 L688.32 263.52 L687.69 260.57 L686.43 258.8 L684.53 258.21 L683.27 258.21M692.75 261.16 L692.75 260.57 L693.38 259.39 L694.01 258.8 L695.28 258.21 L697.8 258.21 L699.07 258.8 L699.7 259.39 L700.33 260.57 L700.33 261.75 L699.7 262.93 L698.44 264.7 L692.12 270.6 L700.96 270.6M711.08 258.21 L704.76 266.47 L714.24 266.47M711.08 258.21 L711.08 270.6M735.3 262.34 L728.35 270.6M728.35 262.34 L735.3 262.34M728.35 270.6 L735.3 270.6M739.72 263.52 L751.1 263.52M739.72 267.06 L751.1 267.06M757.42 260.57 L758.68 259.98 L760.58 258.21 L760.58 270.6M769.43 269.42 L768.79 270.01 L769.43 270.6 L770.06 270.01 L769.43 269.42M782.7 259.98 L782.07 258.8 L780.17 258.21 L778.91 258.21 L777.01 258.8 L775.75 260.57 L775.11 263.52 L775.11 266.47 L775.75 268.83 L777.01 270.01 L778.91 270.6 L779.54 270.6 L781.43 270.01 L782.7 268.83 L783.33 267.06 L783.33 266.47 L782.7 264.7 L781.43 263.52 L779.54 262.93 L778.91 262.93 L777.01 263.52 L775.75 264.7 L775.11 266.47M790.28 258.21 L788.39 258.8 L787.75 259.98 L787.75 261.16 L788.39 262.34 L789.65 262.93 L792.18 263.52 L794.07 264.11 L795.34 265.29 L795.97 266.47 L795.97 268.24 L795.34 269.42 L794.71 270.01 L792.81 270.6 L790.28 270.6 L788.39 270.01 L787.75 269.42 L787.12 268.24 L787.12 266.47 L787.75 265.29 L789.02 264.11 L790.91 263.52 L793.44 262.93 L794.71 262.34 L795.34 261.16 L795.34 259.98 L794.71 258.8 L792.81 258.21 L790.28 258.21M652.3 281.21 L652.3 293.6M652.3 281.21 L657.36 293.6M662.41 281.21 L657.36 293.6M662.41 281.21 L662.41 293.6M670.63 281.21 L668.73 281.8 L667.47 283.57 L666.84 286.52 L666.84 288.29 L667.47 291.24 L668.73 293.01 L670.63 293.6 L671.89 293.6 L673.79 293.01 L675.05 291.24 L675.68 288.29 L675.68 286.52 L675.05 283.57 L673.79 281.8 L671.89 281.21 L670.63 281.21M685.8 281.21 L679.48 289.47 L688.96 289.47M685.8 281.21 L685.8 293.6M699.7 281.21 L693.38 281.21 L692.75 286.52 L693.38 285.93 L695.28 285.34 L697.17 285.34 L699.07 285.93 L700.33 287.11 L700.96 288.88 L700.96 290.06 L700.33 291.83 L699.07 293.01 L697.17 293.6 L695.28 293.6 L693.38 293.01 L692.75 292.42 L692.12 291.24M706.65 283.57 L707.92 282.98 L709.81 281.21 L709.81 293.6M735.3 285.34 L728.35 293.6M728.35 285.34 L735.3 285.34M728.35 293.6 L735.3 293.6M739.72 286.52 L751.1 286.52M739.72 290.06 L751.1 290.06M756.15 284.16 L756.15 283.57 L756.79 282.39 L757.42 281.8 L758.68 281.21 L761.21 281.21 L762.47 281.8 L763.11 282.39 L763.74 283.57 L763.74 284.75 L763.11 285.93 L761.84 287.7 L755.52 293.6 L764.37 293.6M769.43 292.42 L768.79 293.01 L769.43 293.6 L770.06 293.01 L769.43 292.42M778.27 281.21 L776.38 281.8 L775.11 283.57 L774.48 286.52 L774.48 288.29 L775.11 291.24 L776.38 293.01 L778.27 293.6 L779.54 293.6 L781.43 293.01 L782.7 291.24 L783.33 288.29 L783.33 286.52 L782.7 283.57 L781.43 281.8 L779.54 281.21 L778.27 281.21M789.02 283.57 L790.28 282.98 L792.18 281.21 L792.18 293.6M652.3 304.21 L652.3 316.6M652.3 304.21 L657.36 316.6M662.41 304.21 L657.36 316.6M662.41 304.21 L662.41 316.6M670.63 304.21 L668.73 304.8 L667.47 306.57 L666.84 309.52 L666.84 311.29 L667.47 314.24 L668.73 316.01 L670.63 316.6 L671.89 316.6 L673.79 316.01 L675.05 314.24 L675.68 311.29 L675.68 309.52 L675.05 306.57 L673.79 304.8 L671.89 304.21 L670.63 304.21M688.32 304.21 L682 316.6M679.48 304.21 L688.32 304.21M698.44 304.21 L692.12 312.47 L701.6 312.47M698.44 304.21 L698.44 316.6M711.08 304.21 L704.76 312.47 L714.24 312.47M711.08 304.21 L711.08 316.6M735.3 308.34 L728.35 316.6M728.35 308.34 L735.3 308.34M728.35 316.6 L735.3 316.6M739.72 309.52 L751.1 309.52M739.72 313.06 L751.1 313.06M756.15 307.16 L756.15 306.57 L756.79 305.39 L757.42 304.8 L758.68 304.21 L761.21 304.21 L762.47 304.8 L763.11 305.39 L763.74 306.57 L763.74 307.75 L763.11 308.93 L761.84 310.7 L755.52 316.6 L764.37 316.6M769.43 315.42 L768.79 316.01 L769.43 316.6 L770.06 316.01 L769.43 315.42M775.11 307.16 L775.11 306.57 L775.75 305.39 L776.38 304.8 L777.64 304.21 L780.17 304.21 L781.43 304.8 L782.07 305.39 L782.7 306.57 L782.7 307.75 L782.07 308.93 L780.8 310.7 L774.48 316.6 L783.33 316.6M789.02 306.57 L790.28 305.98 L792.18 304.21 L792.18 316.6M657.99 330.16 L657.36 328.98 L656.09 327.8 L654.83 327.21 L652.3 327.21 L651.04 327.8 L649.77 328.98 L649.14 330.16 L648.51 331.93 L648.51 334.88 L649.14 336.65 L649.77 337.83 L651.04 339.01 L652.3 339.6 L654.83 339.6 L656.09 339.01 L657.36 337.83 L657.99 336.65M662.41 327.21 L662.41 339.6M670.63 327.21 L668.73 327.8 L667.47 329.57 L666.84 332.52 L666.84 334.29 L667.47 337.24 L668.73 339.01 L670.63 339.6 L671.89 339.6 L673.79 339.01 L675.05 337.24 L675.68 334.29 L675.68 332.52 L675.05 329.57 L673.79 327.8 L671.89 327.21 L670.63 327.21M687.69 331.34 L687.06 333.11 L685.8 334.29 L683.9 334.88 L683.27 334.88 L681.37 334.29 L680.11 333.11 L679.48 331.34 L679.48 330.75 L680.11 328.98 L681.37 327.8 L683.27 327.21 L683.9 327.21 L685.8 327.8 L687.06 328.98 L687.69 331.34 L687.69 334.29 L687.06 337.24 L685.8 339.01 L683.9 339.6 L682.64 339.6 L680.74 339.01 L680.11 337.83M698.44 327.21 L692.12 335.47 L701.6 335.47M698.44 327.21 L698.44 339.6M712.97 331.34 L712.34 333.11 L711.08 334.29 L709.18 334.88 L708.55 334.88 L706.65 334.29 L705.39 333.11 L704.76 331.34 L704.76 330.75 L705.39 328.98 L706.65 327.8 L708.55 327.21 L709.18 327.21 L711.08 327.8 L712.34 328.98 L712.97 331.34 L712.97 334.29 L712.34 337.24 L711.08 339.01 L709.18 339.6 L707.92 339.6 L706.02 339.01 L705.39 337.83M735.3 331.34 L728.35 339.6M728.35 331.34 L735.3 331.34M728.35 339.6 L735.3 339.6M739.72 332.52 L751.1 332.52M739.72 336.06 L751.1 336.06M756.15 330.16 L756.15 329.57 L756.79 328.39 L757.42 327.8 L758.68 327.21 L761.21 327.21 L762.47 327.8 L763.11 328.39 L763.74 329.57 L763.74 330.75 L763.11 331.93 L761.84 333.7 L755.52 339.6 L764.37 339.6M769.43 338.42 L768.79 339.01 L769.43 339.6 L770.06 339.01 L769.43 338.42M775.75 327.21 L782.7 327.21 L778.91 331.93 L780.8 331.93 L782.07 332.52 L782.7 333.11 L783.33 334.88 L783.33 336.06 L782.7 337.83 L781.43 339.01 L779.54 339.6 L777.64 339.6 L775.75 339.01 L775.11 338.42 L774.48 337.24M795.34 331.34 L794.71 333.11 L793.44 334.29 L791.55 334.88 L790.91 334.88 L789.02 334.29 L787.75 333.11 L787.12 331.34 L787.12 330.75 L787.75 328.98 L789.02 327.8 L790.91 327.21 L791.55 327.21 L793.44 327.8 L794.71 328.98 L795.34 331.34 L795.34 334.29 L794.71 337.24 L793.44 339.01 L791.55 339.6 L790.28 339.6 L788.39 339.01 L787.75 337.83M652.3 350.21 L652.3 362.6M652.3 350.21 L657.36 362.6M662.41 350.21 L657.36 362.6M662.41 350.21 L662.41 362.6M670.63 350.21 L668.73 350.8 L667.47 352.57 L666.84 355.52 L666.84 357.29 L667.47 360.24 L668.73 362.01 L670.63 362.6 L671.89 362.6 L673.79 362.01 L675.05 360.24 L675.68 357.29 L675.68 355.52 L675.05 352.57 L673.79 350.8 L671.89 350.21 L670.63 350.21M688.32 350.21 L682 362.6M679.48 350.21 L688.32 350.21M694.01 352.57 L695.28 351.98 L697.17 350.21 L697.17 362.6M705.39 353.16 L705.39 352.57 L706.02 351.39 L706.65 350.8 L707.92 350.21 L710.44 350.21 L711.71 350.8 L712.34 351.39 L712.97 352.57 L712.97 353.75 L712.34 354.93 L711.08 356.7 L704.76 362.6 L713.6 362.6M735.3 354.34 L728.35 362.6M728.35 354.34 L735.3 354.34M728.35 362.6 L735.3 362.6M739.72 355.52 L751.1 355.52M739.72 359.06 L751.1 359.06M756.15 353.16 L756.15 352.57 L756.79 351.39 L757.42 350.8 L758.68 350.21 L761.21 350.21 L762.47 350.8 L763.11 351.39 L763.74 352.57 L763.74 353.75 L763.11 354.93 L761.84 356.7 L755.52 362.6 L764.37 362.6M769.43 361.42 L768.79 362.01 L769.43 362.6 L770.06 362.01 L769.43 361.42M782.7 351.98 L782.07 350.8 L780.17 350.21 L778.91 350.21 L777.01 350.8 L775.75 352.57 L775.11 355.52 L775.11 358.47 L775.75 360.83 L777.01 362.01 L778.91 362.6 L779.54 362.6 L781.43 362.01 L782.7 360.83 L783.33 359.06 L783.33 358.47 L782.7 356.7 L781.43 355.52 L779.54 354.93 L778.91 354.93 L777.01 355.52 L775.75 356.7 L775.11 358.47M794.71 350.21 L788.39 350.21 L787.75 355.52 L788.39 354.93 L790.28 354.34 L792.18 354.34 L794.07 354.93 L795.34 356.11 L795.97 357.88 L795.97 359.06 L795.34 360.83 L794.07 362.01 L792.18 362.6 L790.28 362.6 L788.39 362.01 L787.75 361.42 L787.12 360.24" fill="none" stroke="#000" stroke-width="1.7" stroke-linecap="round" stroke-linejoin="round"/>
<path d="M812.2 81.8H841.1" stroke="#B03060" stroke-width="2.25"/>
<path d="M812.2 104.8H841.1" stroke="#006400" stroke-width="2.25"/>
<path d="M812.2 127.8H841.1" stroke="#7FFFD4" stroke-width="2.25"/>
<path d="M812.2 150.8H841.1" stroke="#FF0000" stroke-width="2.25"/>
<path d="M812.2 173.8H841.1" stroke="#BA55D3" stroke-width="2.25"/>
<path d="M812.2 196.8H841.1" stroke="#FF00FF" stroke-width="2.25"/>
<path d="M812.2 219.8H841.1" stroke="#DAA520" stroke-width="2.25"/>
<path d="M812.2 242.8H841.1" stroke="#000080" stroke-width="2.25"/>
<g stroke="#0000FF" stroke-width="2.2" fill="none" stroke-miterlimit="10">
<path d="M806.2 265.9h12.8M812.6 259.5v12.8M835 265.9h12.8M841.4 259.5v12.8M812.5 265.9H820M830.3 265.9H841.4"/>
<path d="M806.2 288.9h12.8M812.6 282.5v12.8M807.1 283.4l11 11M807.1 294.4l11 -11M835 288.9h12.8M841.4 282.5v12.8M835.9 283.4l11 11M835.9 294.4l11 -11M812.5 288.9H820M830.3 288.9H841.4"/>
<path d="M812.6 306l5.9 5.9l-5.9 5.9l-5.9 -5.9l5.9 -5.9M841.4 306l5.9 5.9l-5.9 5.9l-5.9 -5.9l5.9 -5.9M812.5 311.9H820M830.3 311.9H841.4"/>
<path d="M812.6 329l5.9 11.7h-11.7l5.9 -11.7M841.4 329l5.9 11.7h-11.7l5.9 -11.7M812.5 334.9H820M830.3 334.9H841.4"/>
<path d="M806.4 351.7h12.4v12.4h-12.4ZM835.2 351.7h12.4v12.4h-12.4ZM812.5 357.9H820M830.3 357.9H841.4"/>
</g>
</svg>
</body></html>
